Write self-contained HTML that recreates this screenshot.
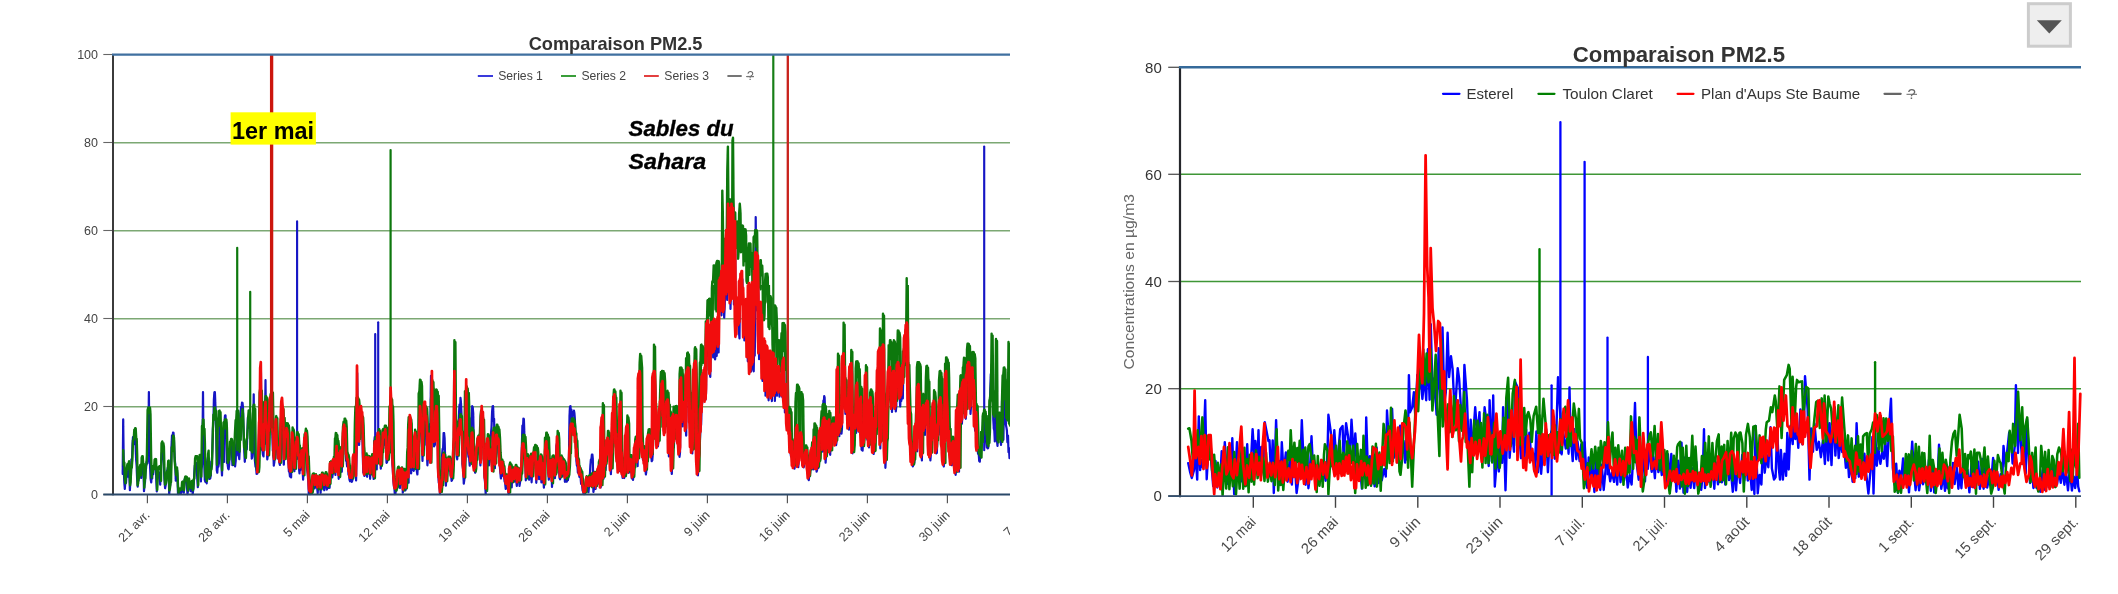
<!DOCTYPE html>
<html><head><meta charset="utf-8"><title>Comparaison PM2.5</title>
<style>html,body{margin:0;padding:0;background:#fff;}body{width:2118px;height:594px;overflow:hidden;font-family:"Liberation Sans",sans-serif;}svg{display:block;}text{font-family:"Liberation Sans",sans-serif;}</style>
</head><body>
<svg width="2118" height="594" viewBox="0 0 2118 594">
<rect width="2118" height="594" fill="#fff"/>
<defs><clipPath id="cl"><rect x="0" y="0" width="1010" height="594"/></clipPath><clipPath id="crl"><rect x="595" y="270" width="385" height="225"/></clipPath><clipPath id="cgl"><rect x="258" y="285" width="752" height="210"/></clipPath><clipPath id="cpl"><rect x="112" y="53" width="898" height="442.6"/></clipPath><clipPath id="cpr"><rect x="1179" y="66" width="903" height="431"/></clipPath><filter id="bl" x="-2%" y="-2%" width="104%" height="104%"><feGaussianBlur stdDeviation="0.55"/></filter></defs>
<g clip-path="url(#cl)" filter="url(#bl)">
<line x1="113" x2="1010" y1="406.7" y2="406.7" stroke="#7ba873" stroke-width="1.5"/>
<line x1="113" x2="1010" y1="318.7" y2="318.7" stroke="#7ba873" stroke-width="1.5"/>
<line x1="113" x2="1010" y1="230.7" y2="230.7" stroke="#7ba873" stroke-width="1.5"/>
<line x1="113" x2="1010" y1="142.7" y2="142.7" stroke="#7ba873" stroke-width="1.5"/>
<line x1="103.3" x2="113" y1="494.5" y2="494.5" stroke="#666" stroke-width="1.1"/>
<text x="98" y="498.9" font-size="12.5" fill="#444" text-anchor="end">0</text>
<line x1="103.3" x2="113" y1="406.5" y2="406.5" stroke="#666" stroke-width="1.1"/>
<text x="98" y="410.9" font-size="12.5" fill="#444" text-anchor="end">20</text>
<line x1="103.3" x2="113" y1="318.5" y2="318.5" stroke="#666" stroke-width="1.1"/>
<text x="98" y="322.9" font-size="12.5" fill="#444" text-anchor="end">40</text>
<line x1="103.3" x2="113" y1="230.5" y2="230.5" stroke="#666" stroke-width="1.1"/>
<text x="98" y="234.9" font-size="12.5" fill="#444" text-anchor="end">60</text>
<line x1="103.3" x2="113" y1="142.5" y2="142.5" stroke="#666" stroke-width="1.1"/>
<text x="98" y="146.9" font-size="12.5" fill="#444" text-anchor="end">80</text>
<line x1="103.3" x2="113" y1="54.5" y2="54.5" stroke="#666" stroke-width="1.1"/>
<text x="98" y="58.9" font-size="12.5" fill="#444" text-anchor="end">100</text>
<line x1="147.4" x2="147.4" y1="494.5" y2="503.3" stroke="#555" stroke-width="1.2"/>
<text transform="translate(150.4,515.7) rotate(-45)" font-size="12.7" fill="#444" text-anchor="end">21 avr.</text>
<line x1="227.4" x2="227.4" y1="494.5" y2="503.3" stroke="#555" stroke-width="1.2"/>
<text transform="translate(230.4,515.7) rotate(-45)" font-size="12.7" fill="#444" text-anchor="end">28 avr.</text>
<line x1="307.4" x2="307.4" y1="494.5" y2="503.3" stroke="#555" stroke-width="1.2"/>
<text transform="translate(310.4,515.7) rotate(-45)" font-size="12.7" fill="#444" text-anchor="end">5 mai</text>
<line x1="387.4" x2="387.4" y1="494.5" y2="503.3" stroke="#555" stroke-width="1.2"/>
<text transform="translate(390.4,515.7) rotate(-45)" font-size="12.7" fill="#444" text-anchor="end">12 mai</text>
<line x1="467.4" x2="467.4" y1="494.5" y2="503.3" stroke="#555" stroke-width="1.2"/>
<text transform="translate(470.4,515.7) rotate(-45)" font-size="12.7" fill="#444" text-anchor="end">19 mai</text>
<line x1="547.4" x2="547.4" y1="494.5" y2="503.3" stroke="#555" stroke-width="1.2"/>
<text transform="translate(550.4,515.7) rotate(-45)" font-size="12.7" fill="#444" text-anchor="end">26 mai</text>
<line x1="627.4" x2="627.4" y1="494.5" y2="503.3" stroke="#555" stroke-width="1.2"/>
<text transform="translate(630.4,515.7) rotate(-45)" font-size="12.7" fill="#444" text-anchor="end">2 juin</text>
<line x1="707.4" x2="707.4" y1="494.5" y2="503.3" stroke="#555" stroke-width="1.2"/>
<text transform="translate(710.4,515.7) rotate(-45)" font-size="12.7" fill="#444" text-anchor="end">9 juin</text>
<line x1="787.4" x2="787.4" y1="494.5" y2="503.3" stroke="#555" stroke-width="1.2"/>
<text transform="translate(790.4,515.7) rotate(-45)" font-size="12.7" fill="#444" text-anchor="end">16 juin</text>
<line x1="867.4" x2="867.4" y1="494.5" y2="503.3" stroke="#555" stroke-width="1.2"/>
<text transform="translate(870.4,515.7) rotate(-45)" font-size="12.7" fill="#444" text-anchor="end">23 juin</text>
<line x1="947.4" x2="947.4" y1="494.5" y2="503.3" stroke="#555" stroke-width="1.2"/>
<text transform="translate(950.4,515.7) rotate(-45)" font-size="12.7" fill="#444" text-anchor="end">30 juin</text>
<line x1="1027.4" x2="1027.4" y1="494.5" y2="503.3" stroke="#555" stroke-width="1.2"/>
<text transform="translate(1029.7,516.4) rotate(-45)" font-size="12.7" fill="#444" text-anchor="end">7 juil.</text>
<g clip-path="url(#cpl)" fill="none" stroke-linejoin="round" stroke-linecap="round">
<polyline stroke="#1212c4" stroke-width="2.2" points="122.7,474.0 123.2,419.4 123.8,470.1 124.3,482.3 124.8,488.8 125.4,481.4 126.0,482.9 126.5,474.8 127.1,472.0 127.6,476.7 128.1,472.0 128.6,467.8 129.0,467.7 129.5,479.7 129.9,490.2 130.4,479.2 130.9,477.3 131.4,459.3 132.0,461.4 132.5,443.8 133.0,437.0 133.5,442.7 134.0,437.0 134.5,444.2 135.0,438.9 135.5,443.2 136.1,459.1 136.6,465.6 137.1,478.7 137.7,486.6 138.1,478.3 138.6,480.6 139.1,472.3 139.6,468.7 140.1,468.2 140.8,469.7 141.2,478.0 141.7,464.3 142.5,460.9 143.0,468.1 143.4,465.2 144.0,491.1 144.5,484.4 145.0,482.3 145.5,472.5 146.0,468.8 146.5,462.2 147.0,462.2 147.4,463.5 147.9,456.3 148.3,444.2 148.9,392.1 149.5,457.9 150.0,464.1 150.6,478.9 151.2,482.3 151.7,475.8 152.2,478.4 152.7,469.2 153.2,474.2 153.7,465.8 154.2,465.5 154.8,466.7 155.3,463.3 155.8,463.3 156.3,480.6 156.8,491.4 157.3,479.8 157.8,475.2 158.3,477.1 158.8,472.6 159.2,472.7 159.7,475.8 160.2,484.6 160.7,474.8 161.2,460.5 161.7,453.8 162.2,451.3 162.7,455.0 163.2,454.5 163.8,464.5 164.4,478.8 165.1,488.2 165.8,484.6 166.3,475.0 166.9,471.1 167.4,470.0 167.9,467.3 168.7,473.4 169.2,494.2 169.7,487.6 170.3,485.0 170.9,470.9 171.4,448.7 172.0,435.3 172.5,441.2 173.0,432.6 173.5,432.8 174.0,440.8 174.6,457.2 175.2,464.1 175.8,480.6 176.4,478.9 177.1,470.3 177.6,481.5 178.0,494.2 178.5,494.2 179.0,490.6 179.5,490.8 180.1,493.2 180.6,490.7 181.2,493.0 181.8,489.4 182.4,484.9 182.9,485.0 183.4,491.4 183.8,492.7 184.5,479.9 185.0,478.7 185.5,478.7 186.0,480.6 186.5,481.3 187.0,487.1 187.5,494.1 188.1,489.7 188.6,483.7 189.1,483.8 189.6,488.4 190.1,487.0 190.6,491.1 191.1,490.7 191.5,484.6 192.1,486.7 192.7,494.2 193.3,489.2 193.9,481.6 194.4,471.3 194.8,465.5 195.3,467.9 195.8,463.0 196.3,463.1 196.8,468.9 197.3,479.1 197.8,487.2 198.2,472.3 198.7,464.6 199.2,467.5 199.7,461.0 200.5,462.7 200.9,481.5 201.4,469.2 201.9,466.5 202.4,457.4 203.0,392.1 203.6,456.2 204.2,462.7 204.8,479.9 205.4,481.9 206.1,480.5 206.7,483.3 207.1,461.8 207.8,457.7 208.2,463.4 208.7,460.0 209.2,479.0 209.7,475.6 210.2,478.6 210.8,475.5 211.3,461.6 211.8,462.6 212.4,449.9 212.9,428.8 213.4,421.4 213.9,399.4 214.4,392.3 214.9,392.1 215.4,405.6 215.9,412.9 216.3,439.2 216.8,470.5 217.3,472.7 217.9,463.2 218.4,466.6 218.9,463.0 219.5,423.2 220.1,429.1 220.8,439.0 221.4,464.1 222.0,475.4 222.5,454.0 222.9,440.8 223.4,455.2 224.0,461.9 224.6,420.3 225.0,415.5 225.5,415.4 225.9,426.7 226.3,422.3 226.9,462.9 227.5,463.0 228.1,468.2 228.6,469.3 229.2,464.0 230.0,448.6 230.5,444.5 231.0,444.4 231.4,448.9 231.9,450.1 232.4,465.2 233.0,463.4 233.5,465.0 234.0,463.3 234.5,460.8 235.1,466.4 235.7,460.8 236.2,445.0 236.8,441.3 237.4,419.9 238.2,455.4 238.7,455.4 239.3,459.1 239.8,448.0 240.4,415.3 241.0,407.2 241.5,408.3 242.0,402.7 242.5,402.8 243.0,407.9 243.7,433.4 244.2,449.9 244.8,461.8 245.3,450.2 245.8,454.1 246.3,441.0 246.8,449.4 247.3,434.8 247.9,417.5 248.5,417.1 249.1,427.7 249.7,417.2 250.2,420.3 250.7,438.8 251.2,439.3 251.8,458.6 252.2,457.0 252.7,443.7 253.1,441.2 253.7,394.3 254.2,447.2 254.9,460.4 255.5,466.7 256.1,467.5 256.6,473.8 257.2,473.6 257.8,457.7 258.4,453.9 258.9,446.0 259.4,411.1 259.9,410.1 260.4,377.4 260.9,367.3 261.3,411.6 261.8,449.8 262.4,449.9 263.0,455.0 263.5,456.4 264.0,437.2 264.5,444.1 264.9,434.8 265.5,380.2 266.1,438.1 266.7,442.1 267.3,459.4 267.9,454.3 268.5,428.5 269.1,432.0 269.7,412.0 270.3,401.9 270.9,411.5 271.5,401.7 271.9,410.8 272.4,437.7 272.8,450.3 273.3,452.4 273.8,465.7 274.4,461.7 274.9,440.0 275.5,440.3 276.1,426.6 276.6,429.7 277.1,450.7 277.6,458.5 278.2,451.2 278.8,458.3 279.3,462.7 279.9,464.9 280.5,435.0 281.0,416.3 281.5,414.4 281.9,402.9 282.5,415.3 283.2,448.8 283.8,464.6 284.3,452.0 284.8,456.5 285.3,437.9 285.8,437.3 286.2,440.0 286.8,433.8 287.2,433.9 287.8,436.7 288.3,459.8 288.9,471.4 289.4,471.5 290.0,476.5 290.5,471.9 291.1,477.4 291.8,439.0 292.3,450.1 292.9,445.4 293.4,448.5 293.9,468.7 294.4,471.1 294.9,454.8 295.5,455.6 296.1,440.9 296.6,437.1 297.1,437.0 297.6,441.0 298.1,439.5 298.6,444.1 299.0,468.2 299.5,473.5 300.0,466.5 300.5,469.9 301.0,456.7 301.5,463.0 302.0,453.7 302.5,464.9 303.1,479.6 303.7,466.7 304.4,443.3 304.9,438.3 305.4,438.2 306.0,453.4 306.6,453.3 307.2,470.2 307.8,475.5 308.3,482.1 308.8,494.2 309.4,494.2 310.0,494.2 310.6,494.2 311.2,492.6 311.8,490.1 312.3,481.0 313.0,478.9 313.5,478.9 314.0,479.8 314.5,488.4 315.1,487.4 315.6,480.3 316.1,480.1 316.6,485.7 317.1,486.8 317.7,493.3 318.2,484.4 318.7,485.4 319.2,482.5 319.7,482.5 320.1,483.2 320.6,493.0 321.2,480.2 321.6,481.6 322.1,479.2 322.6,479.2 323.1,482.0 323.7,486.7 324.3,490.2 324.8,484.1 325.2,479.8 325.8,484.6 326.4,485.4 326.9,489.6 327.4,487.3 327.9,482.9 328.4,483.9 329.0,488.0 329.6,487.8 330.0,476.5 330.5,469.2 331.1,475.4 331.7,471.6 332.3,477.5 332.7,473.8 333.2,466.6 333.7,463.1 334.2,463.0 334.9,465.8 335.4,474.9 335.9,451.5 336.4,451.9 336.8,450.0 337.3,450.1 337.8,455.2 338.7,478.8 339.4,458.5 339.9,459.6 340.4,455.3 341.3,458.8 341.8,471.8 342.4,450.4 343.0,436.3 343.5,435.3 344.0,429.4 344.5,429.5 345.0,435.4 345.6,452.0 346.1,460.9 346.6,460.9 347.1,466.5 347.6,463.4 348.1,466.2 348.5,474.8 349.0,473.7 349.5,479.9 350.1,481.3 350.6,479.9 351.2,479.9 351.8,481.8 352.3,480.5 353.0,464.0 353.5,460.0 354.0,459.9 354.5,466.0 355.0,462.9 355.6,468.1 356.1,480.5 356.7,451.5 357.2,373.1 357.8,425.6 358.4,439.9 359.1,445.0 359.6,428.4 360.1,417.3 360.6,423.2 361.1,412.6 361.6,412.7 362.1,417.0 362.7,453.1 363.3,472.6 363.9,472.7 364.5,476.0 365.1,474.2 365.7,462.7 366.3,460.0 367.1,476.8 367.6,463.4 368.1,466.4 368.5,461.5 369.0,461.5 369.5,462.6 370.1,478.8 370.8,464.6 371.3,465.5 371.8,463.3 372.3,463.3 372.8,464.1 373.2,475.0 373.7,479.0 374.2,442.3 374.7,437.1 375.2,437.0 375.7,447.2 376.1,444.9 376.7,469.5 377.2,435.6 377.7,432.7 378.2,432.6 378.7,438.4 379.2,434.7 379.7,441.6 380.3,459.7 380.8,468.6 381.3,458.9 381.8,461.4 382.3,443.1 382.8,439.8 383.3,445.2 383.8,437.2 384.4,435.9 385.1,435.8 385.6,448.3 386.1,446.1 386.5,462.8 387.0,462.4 387.7,458.0 388.3,457.9 388.8,455.7 389.3,442.1 389.8,439.6 390.3,429.5 390.8,395.4 391.3,411.2 391.8,444.3 392.3,463.4 392.8,469.6 393.4,481.4 393.9,486.5 394.4,488.0 394.8,494.1 395.4,493.6 396.0,489.5 396.6,488.9 397.4,476.8 397.9,478.6 398.4,475.9 398.9,475.9 399.4,477.7 400.0,487.9 400.7,473.6 401.2,473.5 401.7,471.8 402.4,476.6 402.8,492.7 403.3,482.6 403.8,476.6 404.3,482.7 404.9,482.7 405.4,490.4 405.9,488.8 406.4,480.5 406.9,477.5 407.4,480.8 408.0,479.9 408.6,482.7 409.0,427.7 409.7,422.3 410.1,436.3 410.6,429.9 411.1,473.5 411.6,466.3 412.1,463.6 412.7,469.9 413.2,465.3 413.8,470.8 414.3,459.9 414.9,438.7 415.4,440.2 415.9,458.9 416.4,458.5 416.9,471.9 417.4,474.5 418.0,460.5 418.6,456.3 419.2,440.2 419.8,411.0 420.4,413.5 421.1,430.9 421.7,434.2 422.5,461.0 423.1,434.5 423.8,419.2 424.2,420.4 424.8,407.7 425.2,409.7 425.8,423.0 426.3,444.6 426.8,446.1 427.4,465.3 427.9,458.5 428.5,446.2 429.1,441.1 429.5,440.5 430.0,423.8 430.4,423.5 431.0,375.8 431.6,427.3 432.1,440.6 432.6,428.9 433.1,440.3 433.6,435.3 434.1,446.4 434.9,444.7 435.5,414.5 435.9,419.7 436.4,411.7 436.9,411.8 437.4,414.9 438.1,472.5 438.8,482.8 439.4,484.8 440.0,494.2 440.5,487.0 441.1,471.9 441.6,469.8 442.1,454.6 442.6,448.9 443.1,449.0 443.6,433.0 444.1,433.1 444.6,438.1 445.3,464.5 445.9,485.7 446.6,470.9 447.2,464.2 447.8,464.9 448.4,462.6 448.9,462.6 449.5,470.6 450.0,467.1 450.5,475.5 451.0,473.6 451.6,480.9 452.0,480.4 452.5,470.1 453.0,466.8 453.4,458.7 453.9,442.5 454.4,376.7 455.0,425.9 455.6,428.9 456.3,444.1 456.7,456.2 457.2,459.3 457.7,447.8 458.2,445.4 458.7,434.8 459.1,412.0 459.5,404.7 460.0,413.3 460.5,397.8 461.0,403.1 461.5,414.1 462.0,442.3 462.4,464.0 463.1,469.7 463.8,483.6 464.5,478.3 465.2,465.0 465.8,443.7 466.3,386.1 466.9,437.9 467.4,438.3 468.0,452.0 468.5,457.0 469.1,457.1 469.7,465.7 470.2,457.1 470.8,462.5 471.3,418.2 471.8,421.8 472.2,406.2 472.7,407.1 473.2,413.1 473.8,441.7 474.5,450.3 475.1,472.7 475.6,469.7 476.2,451.9 476.7,451.4 477.3,454.1 477.9,442.1 478.4,440.8 479.2,441.0 479.8,456.3 480.4,465.5 480.9,416.6 481.3,412.4 481.7,412.3 482.2,422.6 482.7,426.2 483.3,439.3 483.9,463.8 484.5,476.4 485.1,483.1 485.7,494.2 486.4,450.4 486.9,452.6 487.4,443.4 487.8,444.8 488.3,449.3 488.9,465.4 489.6,460.8 490.2,453.0 490.9,434.8 491.5,427.7 492.1,411.6 492.6,406.3 493.1,406.2 493.6,420.7 494.1,418.8 494.9,468.2 495.3,448.7 495.8,440.6 496.3,446.0 496.8,438.3 497.3,438.4 497.8,439.3 498.3,452.4 498.9,457.0 499.5,461.0 500.1,470.1 500.9,478.5 501.4,475.0 501.9,464.8 502.4,465.0 503.0,475.8 503.5,471.6 504.1,476.8 504.6,481.6 505.1,482.3 505.7,488.8 506.2,487.5 506.8,482.3 507.4,482.1 508.0,489.9 508.7,494.2 509.2,476.2 509.6,472.7 510.1,472.6 510.6,475.5 511.1,473.4 511.7,487.4 512.1,478.1 512.6,474.0 513.2,478.3 513.7,476.6 514.2,481.7 514.7,479.5 515.2,470.6 515.7,470.4 516.2,480.7 516.8,486.0 517.2,477.0 518.0,474.6 518.4,474.9 518.9,477.5 519.5,485.8 520.0,482.6 520.5,474.6 521.0,476.1 521.5,467.6 521.9,444.0 522.4,425.5 522.9,430.8 523.4,418.5 523.9,419.2 524.4,435.4 524.9,452.1 525.3,461.0 525.8,480.3 526.4,468.2 526.8,467.7 527.3,464.5 527.8,464.6 528.3,467.3 528.7,476.7 529.2,479.7 529.7,464.3 530.5,461.8 531.2,466.8 531.6,482.3 532.2,470.3 532.8,461.9 533.4,465.1 534.1,456.3 534.7,460.6 535.3,456.2 535.8,465.0 536.3,482.8 536.8,471.9 537.2,470.8 537.6,467.8 538.1,467.8 538.6,468.7 539.1,479.1 539.6,473.9 540.1,465.3 540.6,460.8 541.4,482.5 541.9,482.0 542.4,469.6 543.0,468.6 543.4,479.6 543.9,487.7 544.4,476.0 544.9,472.1 545.4,455.9 545.9,447.7 546.4,447.5 546.9,453.9 547.4,449.5 547.9,457.7 548.3,473.3 548.8,479.6 549.3,471.4 549.8,467.6 550.3,469.2 550.8,466.7 551.6,470.6 552.0,487.0 552.5,473.2 552.9,463.4 553.6,472.1 554.2,471.1 554.9,478.2 555.4,473.3 555.9,463.2 556.4,445.7 557.2,442.0 557.7,442.1 558.2,446.2 558.9,468.3 559.5,478.0 560.1,479.3 560.9,461.5 561.4,462.4 561.9,475.7 562.4,476.4 562.9,466.5 563.7,465.0 564.5,467.4 564.9,481.8 565.6,478.3 566.2,478.2 566.8,481.7 567.3,478.2 567.9,480.3 568.3,477.7 568.8,468.9 569.5,415.7 570.0,406.4 570.5,406.2 571.0,418.0 571.4,409.5 572.0,430.6 572.4,415.5 572.9,411.9 573.4,414.3 573.9,410.6 574.4,412.9 574.9,419.6 575.4,434.5 575.9,441.0 576.4,460.9 576.9,465.7 577.4,465.8 577.9,472.7 578.3,470.3 578.9,471.5 579.4,476.8 580.0,476.1 580.5,476.3 581.1,484.0 581.6,484.0 582.1,484.9 582.6,490.6 583.1,491.0 583.6,494.2 584.2,494.2 584.8,494.2 585.4,490.0 585.9,488.8 586.5,483.9 587.0,484.4 587.5,490.7 588.0,489.3 588.5,492.2 589.3,482.5 589.8,476.6 590.4,465.1 590.9,459.6 591.4,459.1 591.9,454.6 592.4,454.7 592.8,458.9 593.4,492.0 593.9,488.8 594.4,481.5 594.9,479.2 595.6,488.8 596.2,483.5 596.8,476.9 597.3,477.0 597.9,484.0 598.6,473.9 599.1,474.7 599.6,470.9 600.3,474.4 600.8,487.4 601.4,425.5 601.9,421.9 602.4,421.9 603.2,431.0 603.6,478.7 604.2,469.5 604.8,451.6 605.6,470.1 606.1,459.2 606.5,461.1 607.0,444.9 607.5,444.4 608.1,446.8 608.7,444.8 609.3,444.8 609.9,447.1 610.4,463.2 610.9,474.1 611.5,457.6 612.1,456.5 612.7,438.6 613.3,422.6 613.8,417.1 614.3,400.3 615.1,433.9 615.6,437.3 616.1,446.9 616.6,447.1 617.1,453.8 617.6,461.5 618.1,456.3 618.6,469.5 619.1,471.2 619.8,454.4 620.3,409.0 620.8,457.1 621.5,463.6 622.2,474.9 622.6,477.9 623.1,475.0 623.6,476.2 624.2,478.0 624.8,475.9 625.4,475.9 625.8,459.2 626.2,438.5 626.7,431.9 627.2,431.7 627.7,444.3 628.1,443.1 628.7,472.8 629.3,464.4 630.0,464.2 630.6,471.3 631.2,467.8 631.8,478.4 632.4,476.1 633.0,479.9 633.5,475.3 634.0,464.3 634.5,463.2 635.0,449.1 635.5,451.6 635.9,445.9 636.4,445.9 636.9,448.9 637.6,466.2 638.3,428.5 638.8,390.7 639.5,376.3 640.0,391.2 640.5,385.2 641.1,440.4 641.8,440.6 642.4,454.9 643.0,459.9 643.6,455.0 644.1,456.9 644.7,464.2 645.3,467.5 645.9,474.5 646.4,470.4 646.9,455.3 647.5,443.6 648.2,441.1 648.7,446.4 649.2,438.9 649.7,440.1 650.2,444.8 650.7,453.1 651.2,454.3 651.7,461.1 652.3,460.1 652.9,452.2 653.4,388.1 654.2,378.1 654.7,379.5 655.2,387.7 656.0,433.6 656.6,441.4 657.2,437.7 657.9,446.4 658.4,441.8 659.0,427.3 659.6,423.0 660.2,412.3 660.8,405.3 661.5,405.1 661.9,401.3 662.4,388.4 662.9,390.8 663.5,416.6 664.1,413.9 664.7,431.9 665.3,427.3 665.9,417.7 666.5,405.9 666.9,404.3 667.4,404.3 667.8,412.7 668.3,414.7 668.9,456.5 669.3,435.4 669.8,425.4 670.3,446.5 670.8,444.4 671.3,467.5 671.8,474.0 672.3,453.0 672.7,438.4 673.2,418.3 673.9,447.5 674.5,430.6 675.0,425.5 675.5,430.5 676.0,422.6 676.5,422.7 677.0,425.2 677.7,440.4 678.3,446.3 678.9,446.5 679.5,456.8 680.0,452.9 680.5,408.4 681.0,386.0 681.5,405.4 682.1,406.1 682.7,426.4 683.3,414.2 683.8,422.2 684.3,409.5 684.8,409.7 685.3,416.5 685.7,428.8 686.2,435.6 686.8,383.0 687.3,375.6 687.8,375.5 688.3,380.8 688.8,378.3 689.3,389.7 689.9,424.0 690.3,438.9 690.8,431.7 691.3,444.0 691.8,445.7 692.3,453.4 692.9,436.3 693.5,412.0 694.2,378.9 694.7,370.2 695.2,369.4 695.6,384.4 696.0,381.3 696.6,437.6 697.2,451.9 697.9,475.3 698.4,468.2 698.9,455.6 699.4,454.1 700.0,438.8 700.5,427.9 701.1,424.8 701.6,407.1 702.2,403.2 702.7,398.1 703.1,378.2 703.6,373.9 704.1,384.2 704.6,373.8 705.1,374.2 705.5,399.7 706.0,393.5 706.5,353.8 707.1,337.7 707.6,353.3 708.1,328.3 708.6,328.5 709.1,338.3 709.7,373.5 710.3,376.8 710.8,338.6 711.3,329.5 711.7,329.3 712.2,344.5 712.7,335.2 713.2,357.4 714.0,327.4 714.6,327.9 715.1,359.5 715.7,352.6 716.2,325.5 716.7,356.0 717.3,325.5 717.8,324.9 718.6,352.5 719.1,298.2 719.8,285.1 720.3,298.2 720.8,289.4 721.5,315.3 722.0,275.7 722.5,274.9 723.1,302.9 723.7,296.4 724.2,317.7 724.8,304.3 725.3,270.7 725.8,272.7 726.4,241.4 727.2,300.0 727.7,232.0 728.2,212.0 728.7,265.2 729.1,292.1 729.6,247.5 730.0,216.5 730.5,309.0 731.0,287.7 731.5,214.6 732.3,281.7 733.0,217.9 733.9,304.5 734.5,249.1 735.2,233.0 735.6,324.3 736.1,324.9 736.7,312.0 737.2,319.8 737.7,306.0 738.2,305.6 738.9,331.0 739.5,338.5 740.0,287.2 740.6,286.3 741.3,302.6 742.0,279.0 742.4,279.4 742.9,296.6 743.4,324.6 743.9,314.8 744.4,340.5 745.1,313.3 745.6,320.9 746.1,306.0 746.6,307.1 747.1,316.7 747.8,361.3 748.2,342.7 748.7,293.2 749.2,294.7 749.8,350.3 750.3,347.3 750.9,371.7 751.3,350.3 751.9,292.6 752.4,349.0 753.2,369.8 753.7,371.3 754.2,343.0 754.7,355.7 755.2,328.6 755.7,217.0 756.2,272.2 756.8,272.6 757.3,310.6 757.8,272.6 758.3,292.7 759.1,359.2 759.7,313.7 760.1,317.6 760.6,308.5 761.1,308.9 761.6,328.3 762.0,373.5 762.5,380.9 763.2,349.7 763.7,344.3 764.2,344.2 765.0,349.9 765.5,395.7 766.0,383.3 766.5,352.4 767.0,354.3 767.6,390.4 768.1,373.2 768.6,400.3 769.2,368.0 769.7,375.2 770.1,359.4 770.6,359.6 771.1,369.0 771.9,401.1 772.3,364.4 773.0,360.6 773.5,377.6 774.0,369.7 774.5,381.4 774.9,401.0 775.7,366.0 776.3,395.1 777.0,395.6 777.5,378.6 778.0,373.4 778.4,373.3 779.1,377.5 779.5,396.7 780.0,392.7 780.5,382.6 781.1,382.9 781.8,395.1 782.4,397.3 782.9,376.6 783.4,386.3 783.9,366.1 784.4,375.0 784.9,412.5 785.5,407.5 786.2,388.6 786.7,403.9 787.1,428.0 787.8,429.8 788.4,420.6 789.0,420.4 789.5,437.8 790.0,438.0 790.5,452.9 791.0,456.3 791.5,447.2 792.3,458.7 792.8,458.9 793.4,466.4 794.0,464.0 794.5,468.6 795.0,464.6 795.5,439.7 796.0,436.1 796.5,441.9 797.0,431.7 797.8,440.8 798.3,467.1 799.0,458.7 799.7,447.1 800.3,450.0 800.9,439.4 801.4,445.1 801.9,455.3 802.5,465.1 803.1,459.9 803.7,467.4 804.3,464.1 805.0,458.4 805.5,455.6 806.0,455.5 806.5,460.0 807.1,461.3 807.7,463.3 808.2,478.3 808.8,480.2 809.4,473.1 810.0,473.6 810.6,460.9 811.1,457.9 811.9,454.0 812.5,466.4 813.1,469.4 813.6,448.1 814.4,442.6 815.1,446.8 815.5,463.4 816.0,463.5 816.6,471.6 817.1,469.9 817.7,462.8 818.4,467.9 819.0,462.7 819.5,448.2 820.1,436.2 820.6,440.7 821.1,433.6 821.6,433.7 822.1,436.8 822.9,451.6 823.4,400.7 823.8,402.9 824.2,396.1 824.6,397.4 825.1,412.1 825.6,462.7 826.1,453.8 826.6,436.6 827.1,425.9 827.6,441.8 828.1,449.8 828.6,433.7 829.1,426.5 829.6,445.7 830.2,454.8 830.8,441.5 831.5,445.0 832.1,433.4 832.7,430.0 833.3,439.5 834.0,429.9 834.5,430.2 835.0,444.6 835.6,434.8 836.1,445.1 836.6,441.4 837.2,425.8 837.7,373.4 838.3,419.2 838.8,419.5 839.3,436.2 839.8,418.9 840.3,426.5 840.9,419.1 841.5,433.7 842.0,427.8 842.6,372.5 843.1,358.8 843.6,358.5 844.1,369.7 844.6,365.7 845.4,413.9 846.0,406.8 846.6,405.3 847.1,408.0 847.6,404.5 848.0,404.6 848.5,409.0 849.0,429.7 849.4,416.4 849.8,385.8 850.4,374.4 850.9,371.1 851.3,371.0 852.1,391.8 852.5,453.3 853.1,446.9 853.7,426.5 854.2,421.6 854.7,421.5 855.2,431.2 855.6,424.2 856.2,432.8 856.7,406.7 857.1,390.6 857.7,411.8 858.2,408.6 858.8,430.9 859.3,432.1 859.8,413.5 860.4,424.1 860.9,401.4 861.6,449.8 862.1,441.7 862.6,450.7 863.0,441.6 863.5,439.6 864.0,439.5 864.5,433.3 865.0,400.6 865.5,399.4 866.0,379.4 866.5,400.7 867.0,437.7 867.4,439.7 867.8,422.4 868.4,431.4 869.0,447.4 869.5,407.0 869.9,415.8 870.4,402.8 870.8,402.9 871.2,406.0 871.8,438.7 872.4,448.0 873.0,447.7 873.6,454.0 874.2,449.5 874.7,433.7 875.3,435.6 875.9,411.4 876.5,410.5 877.1,414.7 877.6,382.2 878.2,391.6 878.7,370.4 879.2,379.6 879.8,356.7 880.3,448.5 880.8,418.3 881.3,402.1 881.9,363.2 882.3,372.3 882.8,351.1 883.3,354.7 883.8,376.3 884.3,419.0 884.9,434.1 885.4,467.8 885.9,456.5 886.4,435.5 886.9,432.3 887.4,410.3 887.9,385.9 888.4,392.8 888.9,377.0 889.4,373.6 889.9,373.5 890.4,390.2 890.9,378.6 891.4,390.2 892.0,412.0 892.4,398.7 892.8,379.2 893.3,375.9 893.8,375.8 894.3,394.0 894.8,382.9 895.3,383.9 895.8,411.4 896.3,406.4 896.8,378.3 897.3,367.5 897.8,367.2 898.3,379.7 898.8,373.5 899.3,375.3 899.7,396.7 900.2,406.4 900.8,394.3 901.3,400.8 901.8,394.3 902.3,377.6 902.8,398.4 903.3,370.6 903.8,370.0 904.4,361.5 905.0,340.8 905.6,334.1 906.1,346.8 906.6,330.3 907.1,330.6 907.6,346.5 908.2,381.1 908.7,404.9 909.3,415.1 910.0,439.4 910.6,446.6 911.1,447.0 911.7,461.8 912.2,456.6 912.8,466.5 913.3,464.6 913.8,456.4 914.3,463.0 914.8,453.8 915.2,433.0 915.7,429.6 916.2,440.9 916.7,436.5 917.2,451.3 917.7,403.2 918.1,407.5 918.6,391.1 919.3,399.8 919.8,438.1 920.3,438.6 920.9,452.1 921.4,449.5 921.9,460.5 922.4,421.7 923.2,413.0 924.0,416.9 924.4,433.8 924.9,434.9 925.5,409.8 926.0,408.0 926.5,410.3 927.0,406.1 927.5,407.1 928.0,416.2 928.7,447.5 929.3,454.0 929.8,454.5 930.4,460.4 931.0,452.3 931.5,433.5 932.1,431.9 932.6,419.0 933.1,406.9 933.6,406.6 934.1,425.6 934.7,415.9 935.2,443.0 935.7,437.4 936.2,453.4 936.9,452.8 937.5,428.0 938.1,427.5 938.7,434.7 939.3,428.0 939.8,411.4 940.2,405.1 940.6,405.0 941.4,407.6 941.9,446.6 942.3,453.4 942.8,454.9 943.3,462.8 943.8,466.5 944.3,450.1 944.8,443.1 945.2,424.8 945.7,394.4 946.2,379.3 946.8,408.5 947.4,406.5 948.0,434.6 948.5,441.9 949.1,440.9 949.6,455.3 950.2,452.3 950.7,461.0 951.3,464.7 951.8,465.2 952.2,446.9 952.9,445.3 953.4,445.4 953.9,446.9 954.5,459.6 955.0,461.2 955.6,474.8 956.2,469.0 956.8,449.5 957.4,455.0 958.0,437.9 958.5,453.2 959.0,471.7 959.5,409.9 960.0,414.3 960.5,396.3 960.9,396.3 961.3,398.0 961.9,423.8 962.5,412.4 963.2,390.2 963.7,387.8 964.2,387.8 964.7,400.0 965.1,394.9 965.8,418.8 966.4,398.0 967.0,402.0 967.6,375.2 968.1,370.0 968.6,369.9 969.1,380.4 969.6,373.8 970.1,387.8 970.5,413.9 971.0,405.7 971.4,380.4 971.9,375.6 972.4,375.5 972.9,393.9 973.4,384.4 974.0,390.6 974.5,420.3 975.1,430.8 975.5,419.8 976.0,418.6 976.5,438.2 977.0,433.6 977.5,449.3 978.1,453.9 978.6,451.8 979.2,461.0 979.8,461.6 980.4,450.3 981.0,451.1 981.5,439.9 982.1,437.1 982.7,432.6 983.2,423.2 983.7,419.5 984.2,419.4 984.7,430.9 985.2,423.9 985.7,426.6 986.1,441.8 986.7,447.5 987.2,441.9 987.7,448.4 988.2,448.0 988.7,430.3 989.3,431.3 989.8,408.3 990.3,388.8 990.8,374.1 991.3,383.9 991.8,364.0 992.3,364.3 992.7,378.7 993.3,419.7 993.8,428.7 994.3,430.5 994.8,441.4 995.5,421.0 996.1,366.0 996.6,424.4 997.0,440.5 997.5,446.0 998.0,429.2 998.4,421.9 999.0,433.0 999.5,429.1 1000.0,439.0 1000.5,431.3 1001.0,444.9 1001.5,432.8 1002.0,401.8 1002.5,391.2 1002.9,418.3 1003.4,439.8 1003.9,409.7 1004.4,389.3 1004.9,412.9 1005.4,398.6 1005.9,424.9 1006.4,427.4 1006.9,430.5 1007.4,442.3 1008.0,435.5 1008.5,452.1 1009.0,448.1 1009.5,458.1"/>
<line x1="297.1" x2="297.1" y1="221.4" y2="459.0" stroke="#1212c4" stroke-width="2.1"/>
<line x1="375.2" x2="375.2" y1="334.0" y2="459.0" stroke="#1212c4" stroke-width="2.1"/>
<line x1="378.2" x2="378.2" y1="322.2" y2="459.0" stroke="#1212c4" stroke-width="2.1"/>
<line x1="984.2" x2="984.2" y1="146.6" y2="450.2" stroke="#1212c4" stroke-width="2.1"/>
<polyline stroke="#0d780d" stroke-width="2.4" points="123.2,450.2 123.7,465.4 124.3,462.4 124.8,478.6 125.4,483.4 125.8,477.6 126.3,474.3 126.8,468.3 127.4,464.1 127.9,468.7 128.4,464.0 129.1,461.2 129.6,468.4 130.1,485.2 130.6,482.2 131.2,466.2 131.8,467.7 132.4,457.7 133.0,440.4 133.7,440.0 134.3,429.6 134.7,436.1 135.2,428.2 135.7,428.4 136.2,438.4 136.7,438.9 137.2,456.4 137.6,485.3 138.1,483.4 138.7,472.5 139.2,478.4 139.7,467.0 140.3,464.9 140.7,473.0 141.1,475.3 141.7,457.6 142.2,456.2 142.7,456.2 143.2,464.0 143.7,463.7 144.3,487.6 144.8,479.5 145.3,478.3 145.8,466.6 146.4,463.8 146.9,455.3 147.6,410.0 148.3,407.6 148.9,407.5 149.4,413.0 150.0,407.7 150.5,414.4 151.1,454.7 151.7,477.7 152.3,469.5 152.9,472.4 153.4,465.9 154.0,469.2 154.6,459.8 155.1,459.1 155.5,463.2 156.0,459.1 156.6,473.2 157.2,490.0 158.0,467.4 158.7,469.0 159.4,466.2 159.9,466.3 160.4,467.0 161.0,480.9 161.5,443.5 162.3,441.4 162.8,451.5 163.4,443.3 163.9,446.7 164.4,467.7 165.0,484.7 165.5,481.3 166.0,483.4 166.6,480.5 167.1,471.5 167.6,473.2 168.2,461.0 168.7,460.6 169.4,490.4 169.9,488.5 170.5,482.8 171.0,482.1 171.8,447.2 172.4,451.3 173.0,435.7 173.5,435.7 174.0,437.8 174.7,460.8 175.2,467.0 175.6,468.9 176.1,475.1 176.6,475.2 177.0,467.5 177.5,473.7 178.0,486.2 178.5,493.0 179.0,489.3 179.4,488.6 180.0,490.4 180.5,488.6 181.1,490.0 181.6,488.4 182.1,482.1 182.6,481.6 183.3,487.2 184.0,490.2 184.7,479.4 185.3,476.6 185.8,476.5 186.3,480.6 186.8,477.0 187.3,479.1 187.7,486.9 188.1,490.6 188.6,481.8 189.0,478.5 189.5,482.3 190.1,481.9 190.7,488.0 191.2,487.4 191.7,481.0 192.2,480.8 192.8,490.3 193.3,488.6 193.8,479.2 194.3,478.5 194.7,469.7 195.1,458.4 195.6,456.2 196.1,458.3 196.5,456.1 197.1,456.2 197.6,460.0 198.2,485.4 198.8,459.7 199.2,460.7 199.7,454.9 200.2,454.9 200.7,455.8 201.3,476.8 202.0,426.0 202.5,427.9 203.0,419.4 203.5,419.6 204.0,434.6 204.5,428.9 204.9,443.3 205.4,473.9 205.9,478.5 206.4,476.0 206.9,481.1 207.5,475.2 208.1,453.9 208.6,450.6 209.1,470.5 209.5,477.5 210.0,470.4 210.5,475.5 211.0,469.6 211.5,469.2 212.0,464.0 212.5,444.0 213.0,426.8 213.4,414.6 213.9,420.0 214.4,407.7 214.9,407.5 215.6,418.2 216.2,411.0 217.0,464.8 217.5,436.8 218.0,418.5 218.5,426.0 219.1,410.8 219.6,410.6 220.0,420.4 220.5,412.2 221.0,431.5 221.6,443.5 222.1,470.4 222.6,454.4 223.1,433.9 223.5,422.5 224.0,421.9 224.5,428.6 225.0,419.5 225.5,419.4 226.0,426.5 226.4,419.6 226.9,427.9 227.3,446.1 227.7,460.4 228.0,462.7 228.7,459.7 229.4,459.7 230.0,441.7 230.6,444.9 231.1,439.0 231.7,439.0 232.2,440.5 232.9,461.3 233.6,464.6 234.2,456.3 234.9,434.4 235.6,420.3 236.1,422.4 236.7,410.8 237.2,410.6 237.7,421.8 238.2,410.7 238.6,413.7 239.1,442.5 239.5,451.7 240.1,436.5 240.7,440.0 241.3,417.7 241.9,422.6 242.5,409.2 243.0,413.7 243.5,428.3 244.1,447.4 244.7,442.6 245.3,457.0 245.9,457.9 246.5,439.5 247.1,438.2 247.7,428.0 248.2,416.6 248.7,410.4 249.2,422.9 249.7,410.5 250.2,415.0 250.8,426.4 251.4,431.6 251.9,451.5 252.5,452.5 253.2,407.0 253.7,404.8 254.3,404.8 254.7,417.5 255.2,408.9 255.8,461.7 256.3,462.5 256.8,470.0 257.4,466.4 257.9,470.0 258.4,464.3 258.8,447.1 259.6,392.6 260.2,388.7 260.8,388.6 261.2,407.0 261.7,402.5 262.2,444.7 262.8,444.7 263.4,448.1 264.2,402.0 264.9,411.2 265.6,396.2 266.1,396.2 266.6,397.7 267.2,420.9 268.0,453.4 268.5,442.4 269.0,418.3 269.5,417.4 270.0,401.0 270.6,394.2 271.3,403.5 271.9,390.8 272.5,426.5 273.0,429.2 273.5,455.5 274.0,457.4 274.6,440.0 275.2,439.0 275.8,417.9 276.3,416.1 276.9,440.7 277.4,444.8 277.9,445.0 278.4,455.9 278.9,451.7 279.5,453.3 280.1,460.8 280.8,419.3 281.4,418.6 282.0,406.2 282.5,407.2 283.1,423.7 283.6,415.9 284.1,430.1 284.6,457.1 285.0,452.4 285.5,429.7 286.1,423.4 286.8,423.2 287.3,428.7 287.8,423.4 288.3,429.0 288.8,450.9 289.2,466.0 289.7,466.1 290.2,469.9 290.8,467.5 291.3,469.8 291.9,452.7 292.6,427.4 293.1,430.7 293.6,438.9 294.2,457.2 294.9,466.9 295.6,446.7 296.2,438.1 296.7,443.7 297.2,432.3 297.7,432.2 298.3,443.1 298.8,443.4 299.4,462.4 300.0,464.8 300.4,453.8 300.8,450.9 301.5,455.2 302.2,448.3 302.9,452.0 303.4,473.2 304.0,446.1 304.6,434.3 305.3,434.7 305.9,428.7 306.5,434.7 307.1,453.9 307.7,454.2 308.2,468.8 308.7,479.9 309.2,479.2 309.7,488.2 310.2,492.3 310.6,492.3 311.2,488.7 311.7,490.5 312.2,485.7 312.7,474.3 313.5,473.4 313.9,473.4 314.4,475.7 314.9,482.6 315.5,480.3 316.0,474.3 316.6,477.5 317.2,484.4 317.8,487.3 318.4,481.5 319.0,483.3 319.6,475.3 320.1,479.8 320.6,487.4 321.0,484.5 321.4,476.1 322.1,472.7 322.7,472.6 323.3,476.8 323.8,474.9 324.5,482.9 325.0,474.6 325.8,472.2 326.4,472.4 326.9,475.2 327.6,484.9 328.0,484.4 328.4,477.3 329.0,477.6 329.5,481.7 330.1,462.0 330.6,463.3 331.1,461.3 331.9,461.9 332.4,471.4 332.9,463.5 333.4,469.8 333.9,456.8 334.5,456.5 335.0,438.5 335.4,437.9 335.8,433.0 336.3,433.2 336.9,442.1 337.4,438.9 338.0,444.9 338.5,468.2 339.1,475.0 339.7,463.4 340.4,460.5 341.0,447.3 341.4,452.5 341.8,464.5 342.4,447.9 343.0,426.9 343.6,421.6 344.1,431.4 344.6,418.7 345.2,418.8 345.7,424.6 346.3,451.3 346.9,459.6 347.5,452.6 348.1,455.8 348.6,463.6 349.1,463.6 349.7,476.0 350.2,475.4 350.8,474.5 351.5,474.5 352.1,476.5 352.7,473.8 353.3,462.6 353.9,460.6 354.4,451.3 354.9,423.0 355.4,406.7 355.9,409.0 356.5,397.7 357.0,397.4 357.5,409.2 358.0,397.5 358.5,401.6 358.9,422.5 359.4,436.9 360.0,417.6 360.5,415.1 361.0,415.0 361.5,430.8 362.1,415.2 362.6,423.8 363.1,443.8 363.6,450.2 364.1,466.4 364.6,471.3 365.1,471.9 365.6,460.7 366.1,462.6 366.6,453.5 367.0,461.0 367.5,471.6 368.1,459.4 368.5,462.9 369.0,456.2 369.6,456.3 370.2,459.1 370.9,472.5 371.4,458.2 371.8,460.3 372.2,454.1 372.7,454.2 373.2,456.9 373.9,476.2 374.5,440.9 375.0,445.6 375.6,437.3 376.1,437.4 376.7,441.3 377.4,461.4 377.9,436.6 378.4,438.7 378.9,429.1 379.3,429.2 379.7,435.0 380.3,457.0 380.7,464.0 381.1,462.2 381.6,446.3 382.1,450.2 382.6,430.0 383.1,429.1 383.8,435.8 384.4,429.3 384.9,425.7 385.4,435.8 385.9,425.6 386.6,435.8 387.2,458.0 387.8,457.7 388.3,451.5 388.8,450.7 389.5,406.4 390.0,415.1 390.6,397.4 391.1,397.5 391.6,410.6 392.0,404.5 392.5,420.5 392.9,458.1 393.3,470.8 393.8,475.5 394.4,479.8 395.1,488.7 395.6,488.5 396.2,483.0 396.7,485.5 397.2,482.6 397.8,468.1 398.2,466.9 398.7,466.8 399.3,471.9 399.8,469.4 400.5,482.3 401.1,468.6 401.7,467.5 402.2,467.5 402.9,469.8 403.3,488.5 403.8,472.0 404.6,469.0 405.3,471.9 405.8,486.3 406.3,479.3 406.8,469.8 407.2,452.1 407.7,447.4 408.2,424.6 408.7,417.3 409.3,422.8 409.8,417.2 410.2,417.3 410.7,421.8 411.2,465.4 411.7,464.8 412.2,458.5 412.6,458.2 413.2,462.7 413.8,460.5 414.4,467.0 415.1,429.7 415.7,444.4 416.3,436.2 416.8,454.6 417.4,454.1 418.0,467.1 418.7,393.5 419.4,391.1 420.0,379.8 420.5,379.9 421.0,384.2 421.6,424.5 422.1,442.8 422.7,453.5 423.1,428.2 423.6,413.2 424.0,413.7 424.5,406.3 425.0,406.2 425.5,413.3 426.1,406.4 426.6,416.2 427.2,441.5 427.8,457.4 428.3,434.6 428.8,431.2 429.2,431.1 430.0,433.9 430.4,460.5 431.0,398.7 431.4,401.7 431.9,379.8 432.4,380.0 433.0,399.4 433.5,388.8 434.1,399.8 434.6,437.6 435.2,397.0 435.7,400.0 436.2,389.5 436.7,389.6 437.2,403.9 437.7,393.8 438.2,427.0 438.6,466.5 439.2,476.8 439.7,479.9 440.2,489.6 440.8,489.8 441.4,482.4 442.0,483.3 442.6,477.2 443.2,453.9 443.7,452.8 444.2,452.8 444.8,460.9 445.4,457.2 446.2,479.2 446.8,467.8 447.5,458.2 448.0,461.8 448.5,456.6 449.1,461.8 449.6,456.6 450.2,457.0 450.8,469.7 451.4,466.6 452.1,476.3 452.6,469.0 453.2,448.1 453.8,439.6 454.4,340.2 454.9,409.5 455.5,428.6 456.1,419.5 456.6,435.2 457.2,451.7 457.7,453.6 458.3,431.4 459.0,423.4 459.6,430.4 460.2,414.5 460.9,414.3 461.3,429.4 461.8,429.5 462.3,442.4 462.8,458.2 463.2,469.5 463.7,465.0 464.2,475.5 465.0,391.1 465.6,401.4 466.2,386.4 466.7,386.5 467.3,400.3 467.8,391.0 468.4,411.1 469.1,446.4 469.7,451.6 470.3,449.6 470.9,462.0 471.5,458.4 472.2,427.6 472.7,430.7 473.2,455.0 473.7,464.1 474.2,464.1 474.7,469.5 475.2,466.8 475.8,455.8 476.4,457.8 477.0,444.3 477.5,438.6 477.9,443.8 478.4,435.8 478.9,435.2 479.4,441.1 479.9,433.2 480.6,415.0 481.1,410.7 481.7,410.6 482.4,425.2 483.0,417.6 483.8,458.2 484.4,462.1 484.9,476.3 485.5,479.5 486.1,488.9 486.7,446.5 487.3,448.4 487.9,434.3 488.4,434.4 488.9,435.9 489.5,455.9 490.1,457.2 490.7,447.2 491.3,448.3 491.9,465.9 492.5,469.6 493.0,432.1 493.8,427.7 494.2,427.7 494.7,429.5 495.2,461.3 495.8,427.4 496.3,428.6 496.8,424.7 497.3,424.7 497.9,434.1 498.4,427.4 499.0,436.2 499.6,450.7 500.1,457.1 500.6,460.2 501.4,470.8 501.8,464.2 502.3,459.7 502.9,468.3 503.4,464.1 504.0,471.9 504.5,471.7 505.2,474.5 505.9,482.3 506.4,483.3 506.9,474.7 507.4,474.5 507.9,482.4 508.5,484.6 509.1,490.5 509.5,465.1 510.2,462.6 510.8,467.8 511.4,464.8 512.1,480.2 512.6,470.3 513.3,467.4 514.1,468.6 514.5,477.5 515.2,468.0 515.8,464.9 516.3,464.9 517.0,468.2 517.5,480.1 517.9,468.9 518.6,467.9 519.0,472.8 519.5,470.4 520.1,478.3 520.6,468.2 521.1,471.6 521.6,461.9 522.3,441.0 522.9,434.9 523.4,434.8 523.9,447.3 524.5,435.0 525.0,444.3 525.6,461.5 526.3,476.4 526.7,455.5 527.5,454.3 528.1,454.4 528.7,458.1 529.5,472.4 530.1,472.5 530.7,457.5 531.2,453.6 531.7,465.3 532.2,474.2 532.8,461.3 533.4,454.2 534.1,447.2 534.7,448.3 535.2,444.9 535.7,444.9 536.2,447.7 536.8,445.9 537.2,449.7 537.7,459.3 538.3,464.8 538.8,465.2 539.4,472.9 539.9,458.6 540.4,459.8 540.9,454.5 541.3,454.6 541.7,456.0 542.3,477.8 542.8,472.1 543.3,460.6 543.8,469.9 544.2,482.4 545.0,437.7 545.7,443.3 546.3,432.6 546.8,432.7 547.4,441.2 547.9,435.4 548.5,452.1 549.2,474.3 549.8,472.1 550.4,460.4 551.0,458.9 551.5,472.9 552.0,481.2 552.4,456.5 553.1,455.4 553.7,455.5 554.3,457.5 555.0,472.4 555.6,470.7 556.1,457.6 556.6,457.3 557.1,451.3 557.7,430.9 558.2,436.9 558.8,459.7 559.3,469.7 559.8,465.4 560.3,475.3 560.8,457.0 561.6,455.5 562.4,459.1 562.9,470.4 563.3,460.2 564.1,459.3 564.9,461.5 565.4,475.3 565.9,477.2 566.4,471.7 567.0,471.7 567.7,474.8 568.3,472.6 568.9,464.1 569.4,450.1 569.9,451.3 570.4,426.6 570.9,424.7 571.4,431.7 571.8,418.6 572.3,418.4 572.9,427.4 573.6,418.5 574.2,424.5 574.8,435.0 575.3,431.4 575.8,448.3 576.3,438.7 576.9,454.4 577.4,457.2 577.9,457.3 578.5,468.7 579.0,465.9 579.5,465.9 580.1,469.6 580.7,469.3 581.2,469.5 581.7,476.9 582.1,477.1 582.6,480.2 583.1,486.9 583.6,489.7 584.1,489.7 584.6,490.5 585.1,489.7 585.5,490.1 586.1,484.0 586.7,476.1 587.2,477.5 587.7,482.9 588.2,478.5 588.7,484.4 589.2,475.8 589.9,474.9 590.7,477.3 591.1,485.3 591.6,474.1 592.4,473.0 592.8,475.6 593.3,473.5 593.8,483.7 594.2,475.8 594.7,471.9 595.3,482.2 596.0,483.9 596.4,473.6 597.1,470.4 597.9,472.1 598.4,479.8 598.9,462.0 599.7,459.4 600.2,459.4 600.7,461.0 601.4,483.1 601.8,473.9 602.3,461.5 602.9,403.2 603.4,455.3 603.9,474.6 604.5,456.7 605.2,441.1 605.5,461.8 606.1,455.7 606.8,440.2 607.4,447.0 608.0,430.9 608.5,431.0 609.0,436.3 609.5,443.4 610.0,436.3 610.4,437.7 611.0,460.0 611.6,466.4 612.1,446.6 612.5,444.6 613.0,424.1 613.5,396.3 614.0,389.6 614.4,389.5 614.8,401.5 615.3,395.6 615.8,418.6 616.3,421.4 616.8,446.0 617.3,446.0 617.8,447.8 618.3,458.8 618.9,454.2 619.4,465.1 620.0,445.0 620.5,390.7 621.1,446.7 621.6,455.3 622.1,456.1 622.6,467.4 623.2,470.8 623.7,467.5 624.3,471.7 624.8,474.0 625.4,469.9 626.0,469.9 626.5,426.1 626.9,431.0 627.4,415.5 628.1,421.6 628.6,469.2 629.3,456.4 629.9,455.2 630.5,455.2 631.0,459.6 631.6,455.3 632.1,458.4 632.7,471.8 633.2,474.8 633.7,464.9 634.2,465.4 634.8,452.7 635.3,439.3 635.8,436.6 636.3,436.6 636.8,444.4 637.4,439.8 638.1,456.3 638.6,432.8 639.1,414.1 639.6,364.3 640.2,353.9 641.1,365.8 641.6,429.3 642.1,445.2 642.7,446.2 643.2,446.3 643.8,451.7 644.3,446.3 644.8,447.0 645.4,461.8 645.9,467.6 646.3,457.5 646.8,459.4 647.3,449.0 648.0,433.9 648.7,429.4 649.3,429.3 649.8,434.9 650.3,429.4 650.7,432.5 651.2,444.4 651.6,452.1 652.2,435.2 652.8,436.8 653.5,423.1 654.0,344.6 654.5,400.7 655.1,401.6 655.6,417.8 656.1,421.5 656.6,421.9 657.1,439.7 657.6,427.1 658.1,437.7 658.6,438.6 659.1,419.2 659.6,425.1 660.0,397.3 660.5,380.4 661.0,371.9 661.5,380.7 662.0,371.0 662.5,371.0 663.0,388.6 663.6,371.2 664.1,379.4 664.6,405.5 665.1,424.0 665.7,402.3 666.4,401.8 666.8,391.6 667.5,390.7 668.1,403.9 668.8,402.7 669.5,446.8 670.0,410.3 670.5,415.0 671.0,444.0 671.6,444.8 672.1,466.4 672.6,448.4 673.1,422.4 673.6,406.8 674.1,436.8 674.6,428.0 675.0,409.1 675.5,406.1 675.9,417.6 676.4,406.0 676.9,406.1 677.4,414.6 677.9,408.7 678.3,415.9 678.8,438.0 679.2,419.7 679.6,374.7 680.1,367.6 680.5,381.0 681.0,367.5 681.5,367.6 682.0,385.3 682.4,373.5 682.9,383.7 683.3,411.3 683.9,412.8 684.5,394.0 685.0,391.8 685.6,393.8 686.1,358.2 686.7,376.9 687.2,353.3 687.8,352.5 688.0,353.8 688.5,379.5 689.0,363.7 689.5,393.4 690.1,390.7 690.6,410.8 691.1,430.2 691.7,426.8 692.2,440.7 692.8,447.3 693.3,412.3 693.8,413.2 694.3,369.0 694.8,348.6 695.2,347.2 695.8,378.7 696.3,390.3 696.9,428.4 697.4,445.9 697.9,449.9 698.4,469.1 698.9,435.6 699.4,389.1 699.9,362.5 700.4,363.1 701.0,345.0 701.5,344.6 702.1,360.9 702.7,346.1 703.4,358.1 704.0,355.8 704.6,355.7 705.2,368.3 705.8,321.5 706.4,347.8 707.0,320.8 707.5,300.4 708.0,300.0 708.5,309.1 709.1,298.9 709.6,298.8 710.2,315.9 710.8,306.9 711.5,335.8 711.9,288.2 712.3,281.5 713.0,282.1 713.7,265.4 714.3,265.5 714.8,269.2 715.5,309.4 715.9,301.9 716.3,263.3 717.0,261.0 717.7,261.0 718.2,288.1 718.7,261.1 719.1,265.2 719.6,295.1 720.0,291.8 720.6,274.6 721.3,274.2 721.8,273.8 722.3,190.6 722.8,212.4 723.3,256.6 724.0,278.6 724.6,239.0 725.1,239.7 725.6,274.2 726.2,273.0 726.8,230.2 727.3,169.8 727.9,146.6 728.4,202.7 728.9,230.2 729.5,204.1 729.9,199.5 730.4,199.4 731.1,201.4 731.6,221.4 732.1,238.1 732.5,140.4 733.0,137.8 733.5,197.7 734.0,221.4 734.6,212.8 735.2,212.6 735.9,248.0 736.5,239.0 737.0,221.8 737.6,221.4 738.1,258.7 738.6,252.2 739.1,213.9 739.8,203.8 740.5,213.1 741.0,252.2 741.5,227.6 742.0,241.7 742.5,225.4 743.0,226.2 743.5,265.4 743.9,236.8 744.6,229.3 745.1,261.0 745.6,229.5 746.1,235.8 746.5,280.9 747.0,283.0 747.5,251.2 747.9,282.8 748.4,250.6 748.9,243.5 749.5,274.9 750.0,243.4 750.5,243.6 751.0,266.8 751.5,253.0 752.0,253.8 752.5,291.8 753.0,283.5 753.6,237.3 754.1,236.2 754.6,242.0 755.2,230.3 755.7,230.2 756.2,246.8 756.7,230.2 757.1,232.3 757.6,264.8 758.0,283.0 758.6,264.7 759.2,264.4 759.7,287.3 760.3,260.2 760.8,260.1 761.5,275.3 762.2,265.6 762.6,274.4 763.0,318.2 763.5,314.2 764.0,291.5 764.6,300.4 765.1,280.8 765.6,273.9 766.2,290.6 766.7,273.8 767.3,273.8 767.8,277.1 768.5,327.0 769.1,299.9 769.7,304.6 770.2,296.2 770.7,296.4 771.2,324.3 771.6,305.5 772.1,306.2 772.5,344.6 772.9,354.1 773.4,313.4 773.8,305.6 774.3,331.4 774.8,305.4 775.3,305.7 775.9,319.3 776.5,362.2 777.2,343.4 777.7,349.2 778.3,340.2 779.0,340.3 779.7,345.3 780.1,362.8 780.5,371.0 781.0,345.1 781.5,333.2 782.0,349.3 782.5,323.2 783.0,323.0 783.5,329.7 784.0,323.2 784.5,329.9 785.0,367.9 785.5,363.5 786.2,363.8 786.8,375.1 787.3,409.3 787.9,417.4 788.5,408.9 789.0,407.0 789.5,407.0 790.0,418.7 790.5,410.3 791.0,448.1 791.6,438.3 792.2,438.7 792.9,451.0 793.4,458.9 794.0,454.3 794.5,463.0 795.0,436.9 795.5,401.8 796.0,393.0 796.6,396.9 797.1,384.6 797.7,384.7 798.3,386.3 799.0,437.0 799.8,398.6 800.4,399.7 801.0,392.1 801.5,392.2 802.1,398.4 802.8,445.7 803.3,455.7 803.9,459.6 804.4,452.5 804.9,460.8 805.4,449.2 805.8,445.5 806.3,445.4 806.9,457.9 807.5,455.2 808.0,455.9 808.5,471.8 809.0,474.0 809.5,466.6 810.1,467.5 810.6,456.2 811.1,460.1 811.7,449.5 812.2,442.4 812.6,442.2 813.1,464.1 813.6,429.4 814.1,435.8 814.5,423.4 815.0,423.4 815.6,428.5 816.1,425.9 816.7,442.1 817.4,461.3 817.9,464.6 818.5,456.6 819.1,458.9 819.6,456.5 820.1,440.8 820.6,436.8 821.0,421.0 821.6,411.2 822.1,421.0 822.6,405.2 823.1,404.0 823.7,410.5 824.2,404.0 824.7,404.1 825.2,410.4 825.8,454.4 826.4,444.3 827.0,416.3 827.6,414.3 828.0,431.0 828.5,441.7 829.3,410.9 830.0,421.9 830.6,448.4 831.1,448.2 831.6,425.3 832.1,424.8 832.7,430.2 833.2,417.5 833.8,428.4 834.4,417.4 835.0,417.8 835.6,433.9 836.2,438.3 836.8,423.1 837.4,415.5 838.0,353.7 838.5,408.9 839.2,429.3 839.7,426.8 840.1,409.7 840.7,395.4 841.3,404.0 841.9,386.6 842.5,398.7 843.1,386.2 843.6,322.6 844.1,377.8 844.6,378.3 845.1,398.8 845.6,378.3 846.1,398.3 846.8,402.4 847.4,390.1 848.0,389.9 848.5,414.8 849.1,418.9 849.6,402.4 850.2,412.8 850.8,400.2 851.3,349.9 851.8,423.0 852.5,432.3 853.1,450.1 853.7,442.8 854.3,415.3 854.9,410.5 855.3,402.0 855.7,368.4 856.2,361.5 856.6,375.2 857.1,361.3 857.6,361.4 858.2,372.0 858.7,367.2 859.3,392.1 860.0,425.1 860.6,420.5 861.3,387.0 862.0,441.8 862.5,438.2 863.0,444.1 863.6,436.2 864.3,431.4 864.9,417.3 865.5,413.5 866.0,365.3 866.5,412.4 867.0,423.4 867.5,429.8 867.9,414.5 868.4,409.5 869.0,429.6 869.6,442.6 870.1,392.7 871.0,389.4 871.4,389.6 871.9,396.5 872.4,432.8 872.9,446.8 873.5,438.6 874.0,449.1 874.5,448.8 875.1,428.0 875.7,432.1 876.2,408.3 876.8,398.0 877.4,400.2 877.9,383.6 878.4,403.4 879.0,379.6 879.5,379.2 880.0,328.4 880.6,409.0 881.1,438.8 881.8,426.7 882.5,405.0 883.0,313.8 883.5,389.7 884.1,395.0 884.7,417.8 885.2,443.9 885.8,458.0 886.3,440.0 886.8,436.3 887.4,401.3 887.9,397.1 888.7,345.2 889.3,356.6 890.0,340.2 890.5,340.2 890.9,357.7 891.4,342.5 891.8,351.2 892.2,399.6 892.9,348.9 893.4,361.1 893.9,340.2 894.6,341.5 895.2,351.9 896.0,398.8 896.7,344.1 897.2,352.2 897.8,330.5 898.5,330.6 899.1,335.1 899.9,380.8 900.5,388.0 901.1,377.6 901.7,377.5 902.2,381.2 902.8,351.4 903.3,375.0 903.8,348.9 904.4,348.3 905.0,362.9 905.6,329.8 906.2,329.4 906.7,278.2 907.2,358.0 907.8,383.7 908.3,362.9 908.9,387.5 909.5,409.6 910.1,412.0 910.7,437.6 911.3,450.4 911.8,448.2 912.4,462.4 913.0,462.3 913.5,454.9 914.1,457.5 914.7,443.5 915.2,443.1 916.0,414.9 916.5,404.7 916.9,367.5 917.5,362.3 918.0,375.9 918.5,362.2 919.1,362.2 919.7,364.7 920.4,424.9 920.9,439.6 921.4,436.0 922.0,451.0 922.5,397.4 923.3,393.8 923.9,408.9 924.5,399.5 925.2,422.5 925.9,377.5 926.4,366.0 927.0,365.7 927.6,388.1 928.3,379.6 929.0,437.6 929.7,437.9 930.3,448.4 930.9,450.7 931.5,430.6 932.0,436.1 932.5,407.3 933.1,404.2 933.6,411.0 934.1,390.2 934.7,395.3 935.4,430.2 936.0,445.2 936.6,431.8 937.1,438.3 937.7,416.1 938.2,415.5 938.6,413.9 939.0,380.3 939.7,371.2 940.4,371.0 941.0,388.8 941.5,377.0 942.2,434.7 942.8,439.2 943.3,452.6 943.9,446.9 944.4,461.1 945.1,363.7 945.6,376.7 946.1,357.4 946.6,357.4 947.1,369.2 947.7,360.6 948.1,375.3 948.6,418.9 949.1,434.3 949.6,426.9 950.1,449.7 950.6,450.8 951.3,450.9 952.0,457.7 952.5,454.2 953.0,436.7 953.6,437.4 954.1,453.0 954.6,448.5 955.1,464.1 955.6,460.1 956.1,469.8 956.7,446.6 957.2,406.8 957.8,394.7 958.5,425.9 959.0,449.8 959.5,465.7 960.0,392.8 960.5,375.6 960.9,375.3 961.7,377.4 962.2,411.0 962.9,367.4 963.4,366.7 964.0,357.8 964.7,358.0 965.3,365.5 966.1,407.1 966.6,396.7 967.0,349.4 967.5,343.8 967.9,355.5 968.4,343.7 968.9,344.0 969.4,360.2 969.9,356.0 970.3,362.1 970.8,396.7 971.2,391.8 971.6,362.3 972.1,352.2 972.6,368.2 973.0,352.0 973.7,352.1 974.3,356.5 975.2,418.8 975.6,419.2 976.1,404.3 976.6,404.0 977.2,426.9 977.7,446.1 978.2,446.3 978.8,452.8 979.3,449.0 979.9,454.7 980.5,455.5 981.1,432.0 981.7,440.1 982.3,428.6 982.7,416.1 983.2,413.1 983.6,417.8 984.1,409.7 984.6,409.6 985.1,419.9 985.7,413.9 986.4,434.7 986.9,434.8 987.4,444.2 987.9,435.4 988.4,440.9 988.9,430.1 989.4,400.8 989.9,398.5 990.5,394.0 991.1,381.0 991.6,333.6 992.1,388.3 992.7,388.7 993.2,414.6 993.7,408.5 994.3,392.4 994.9,411.1 995.5,389.7 996.0,338.9 996.5,413.0 997.1,421.6 997.6,440.4 998.1,416.1 998.8,412.7 999.3,423.3 999.8,412.8 1000.4,415.5 1000.9,438.7 1001.4,439.8 1002.0,399.9 1002.6,375.5 1003.2,375.9 1003.8,367.6 1004.4,367.5 1005.0,399.3 1005.6,379.8 1006.2,417.7 1006.9,418.5 1007.4,398.2 1008.0,397.8 1008.5,342.0 1009.0,423.5"/>
<g clip-path="url(#cgl)"><polyline transform="translate(1.0,2.0)" stroke="#0d780d" stroke-width="2.4" points="250.2,415.0 250.8,426.4 251.4,431.6 251.9,451.5 252.5,452.5 253.2,407.0 253.7,404.8 254.3,404.8 254.7,417.5 255.2,408.9 255.8,461.7 256.3,462.5 256.8,470.0 257.4,466.4 257.9,470.0 258.4,464.3 258.8,447.1 259.6,392.6 260.2,388.7 260.8,388.6 261.2,407.0 261.7,402.5 262.2,444.7 262.8,444.7 263.4,448.1 264.2,402.0 264.9,411.2 265.6,396.2 266.1,396.2 266.6,397.7 267.2,420.9 268.0,453.4 268.5,442.4 269.0,418.3 269.5,417.4 270.0,401.0 270.6,394.2 271.3,403.5 271.9,390.8 272.5,426.5 273.0,429.2 273.5,455.5 274.0,457.4 274.6,440.0 275.2,439.0 275.8,417.9 276.3,416.1 276.9,440.7 277.4,444.8 277.9,445.0 278.4,455.9 278.9,451.7 279.5,453.3 280.1,460.8 280.8,419.3 281.4,418.6 282.0,406.2 282.5,407.2 283.1,423.7 283.6,415.9 284.1,430.1 284.6,457.1 285.0,452.4 285.5,429.7 286.1,423.4 286.8,423.2 287.3,428.7 287.8,423.4 288.3,429.0 288.8,450.9 289.2,466.0 289.7,466.1 290.2,469.9 290.8,467.5 291.3,469.8 291.9,452.7 292.6,427.4 293.1,430.7 293.6,438.9 294.2,457.2 294.9,466.9 295.6,446.7 296.2,438.1 296.7,443.7 297.2,432.3 297.7,432.2 298.3,443.1 298.8,443.4 299.4,462.4 300.0,464.8 300.4,453.8 300.8,450.9 301.5,455.2 302.2,448.3 302.9,452.0 303.4,473.2 304.0,446.1 304.6,434.3 305.3,434.7 305.9,428.7 306.5,434.7 307.1,453.9 307.7,454.2 308.2,468.8 308.7,479.9 309.2,479.2 309.7,488.2 310.2,492.3 310.6,492.3 311.2,488.7 311.7,490.5 312.2,485.7 312.7,474.3 313.5,473.4 313.9,473.4 314.4,475.7 314.9,482.6 315.5,480.3 316.0,474.3 316.6,477.5 317.2,484.4 317.8,487.3 318.4,481.5 319.0,483.3 319.6,475.3 320.1,479.8 320.6,487.4 321.0,484.5 321.4,476.1 322.1,472.7 322.7,472.6 323.3,476.8 323.8,474.9 324.5,482.9 325.0,474.6 325.8,472.2 326.4,472.4 326.9,475.2 327.6,484.9 328.0,484.4 328.4,477.3 329.0,477.6 329.5,481.7 330.1,462.0 330.6,463.3 331.1,461.3 331.9,461.9 332.4,471.4 332.9,463.5 333.4,469.8 333.9,456.8 334.5,456.5 335.0,438.5 335.4,437.9 335.8,433.0 336.3,433.2 336.9,442.1 337.4,438.9 338.0,444.9 338.5,468.2 339.1,475.0 339.7,463.4 340.4,460.5 341.0,447.3 341.4,452.5 341.8,464.5 342.4,447.9 343.0,426.9 343.6,421.6 344.1,431.4 344.6,418.7 345.2,418.8 345.7,424.6 346.3,451.3 346.9,459.6 347.5,452.6 348.1,455.8 348.6,463.6 349.1,463.6 349.7,476.0 350.2,475.4 350.8,474.5 351.5,474.5 352.1,476.5 352.7,473.8 353.3,462.6 353.9,460.6 354.4,451.3 354.9,423.0 355.4,406.7 355.9,409.0 356.5,397.7 357.0,397.4 357.5,409.2 358.0,397.5 358.5,401.6 358.9,422.5 359.4,436.9 360.0,417.6 360.5,415.1 361.0,415.0 361.5,430.8 362.1,415.2 362.6,423.8 363.1,443.8 363.6,450.2 364.1,466.4 364.6,471.3 365.1,471.9 365.6,460.7 366.1,462.6 366.6,453.5 367.0,461.0 367.5,471.6 368.1,459.4 368.5,462.9 369.0,456.2 369.6,456.3 370.2,459.1 370.9,472.5 371.4,458.2 371.8,460.3 372.2,454.1 372.7,454.2 373.2,456.9 373.9,476.2 374.5,440.9 375.0,445.6 375.6,437.3 376.1,437.4 376.7,441.3 377.4,461.4 377.9,436.6 378.4,438.7 378.9,429.1 379.3,429.2 379.7,435.0 380.3,457.0 380.7,464.0 381.1,462.2 381.6,446.3 382.1,450.2 382.6,430.0 383.1,429.1 383.8,435.8 384.4,429.3 384.9,425.7 385.4,435.8 385.9,425.6 386.6,435.8 387.2,458.0 387.8,457.7 388.3,451.5 388.8,450.7 389.5,406.4 390.0,415.1 390.6,397.4 391.1,397.5 391.6,410.6 392.0,404.5 392.5,420.5 392.9,458.1 393.3,470.8 393.8,475.5 394.4,479.8 395.1,488.7 395.6,488.5 396.2,483.0 396.7,485.5 397.2,482.6 397.8,468.1 398.2,466.9 398.7,466.8 399.3,471.9 399.8,469.4 400.5,482.3 401.1,468.6 401.7,467.5 402.2,467.5 402.9,469.8 403.3,488.5 403.8,472.0 404.6,469.0 405.3,471.9 405.8,486.3 406.3,479.3 406.8,469.8 407.2,452.1 407.7,447.4 408.2,424.6 408.7,417.3 409.3,422.8 409.8,417.2 410.2,417.3 410.7,421.8 411.2,465.4 411.7,464.8 412.2,458.5 412.6,458.2 413.2,462.7 413.8,460.5 414.4,467.0 415.1,429.7 415.7,444.4 416.3,436.2 416.8,454.6 417.4,454.1 418.0,467.1 418.7,393.5 419.4,391.1 420.0,379.8 420.5,379.9 421.0,384.2 421.6,424.5 422.1,442.8 422.7,453.5 423.1,428.2 423.6,413.2 424.0,413.7 424.5,406.3 425.0,406.2 425.5,413.3 426.1,406.4 426.6,416.2 427.2,441.5 427.8,457.4 428.3,434.6 428.8,431.2 429.2,431.1 430.0,433.9 430.4,460.5 431.0,398.7 431.4,401.7 431.9,379.8 432.4,380.0 433.0,399.4 433.5,388.8 434.1,399.8 434.6,437.6 435.2,397.0 435.7,400.0 436.2,389.5 436.7,389.6 437.2,403.9 437.7,393.8 438.2,427.0 438.6,466.5 439.2,476.8 439.7,479.9 440.2,489.6 440.8,489.8 441.4,482.4 442.0,483.3 442.6,477.2 443.2,453.9 443.7,452.8 444.2,452.8 444.8,460.9 445.4,457.2 446.2,479.2 446.8,467.8 447.5,458.2 448.0,461.8 448.5,456.6 449.1,461.8 449.6,456.6 450.2,457.0 450.8,469.7 451.4,466.6 452.1,476.3 452.6,469.0 453.2,448.1 453.8,439.6 454.4,340.2 454.9,409.5 455.5,428.6 456.1,419.5 456.6,435.2 457.2,451.7 457.7,453.6 458.3,431.4 459.0,423.4 459.6,430.4 460.2,414.5 460.9,414.3 461.3,429.4 461.8,429.5 462.3,442.4 462.8,458.2 463.2,469.5 463.7,465.0 464.2,475.5 465.0,391.1 465.6,401.4 466.2,386.4 466.7,386.5 467.3,400.3 467.8,391.0 468.4,411.1 469.1,446.4 469.7,451.6 470.3,449.6 470.9,462.0 471.5,458.4 472.2,427.6 472.7,430.7 473.2,455.0 473.7,464.1 474.2,464.1 474.7,469.5 475.2,466.8 475.8,455.8 476.4,457.8 477.0,444.3 477.5,438.6 477.9,443.8 478.4,435.8 478.9,435.2 479.4,441.1 479.9,433.2 480.6,415.0 481.1,410.7 481.7,410.6 482.4,425.2 483.0,417.6 483.8,458.2 484.4,462.1 484.9,476.3 485.5,479.5 486.1,488.9 486.7,446.5 487.3,448.4 487.9,434.3 488.4,434.4 488.9,435.9 489.5,455.9 490.1,457.2 490.7,447.2 491.3,448.3 491.9,465.9 492.5,469.6 493.0,432.1 493.8,427.7 494.2,427.7 494.7,429.5 495.2,461.3 495.8,427.4 496.3,428.6 496.8,424.7 497.3,424.7 497.9,434.1 498.4,427.4 499.0,436.2 499.6,450.7 500.1,457.1 500.6,460.2 501.4,470.8 501.8,464.2 502.3,459.7 502.9,468.3 503.4,464.1 504.0,471.9 504.5,471.7 505.2,474.5 505.9,482.3 506.4,483.3 506.9,474.7 507.4,474.5 507.9,482.4 508.5,484.6 509.1,490.5 509.5,465.1 510.2,462.6 510.8,467.8 511.4,464.8 512.1,480.2 512.6,470.3 513.3,467.4 514.1,468.6 514.5,477.5 515.2,468.0 515.8,464.9 516.3,464.9 517.0,468.2 517.5,480.1 517.9,468.9 518.6,467.9 519.0,472.8 519.5,470.4 520.1,478.3 520.6,468.2 521.1,471.6 521.6,461.9 522.3,441.0 522.9,434.9 523.4,434.8 523.9,447.3 524.5,435.0 525.0,444.3 525.6,461.5 526.3,476.4 526.7,455.5 527.5,454.3 528.1,454.4 528.7,458.1 529.5,472.4 530.1,472.5 530.7,457.5 531.2,453.6 531.7,465.3 532.2,474.2 532.8,461.3 533.4,454.2 534.1,447.2 534.7,448.3 535.2,444.9 535.7,444.9 536.2,447.7 536.8,445.9 537.2,449.7 537.7,459.3 538.3,464.8 538.8,465.2 539.4,472.9 539.9,458.6 540.4,459.8 540.9,454.5 541.3,454.6 541.7,456.0 542.3,477.8 542.8,472.1 543.3,460.6 543.8,469.9 544.2,482.4 545.0,437.7 545.7,443.3 546.3,432.6 546.8,432.7 547.4,441.2 547.9,435.4 548.5,452.1 549.2,474.3 549.8,472.1 550.4,460.4 551.0,458.9 551.5,472.9 552.0,481.2 552.4,456.5 553.1,455.4 553.7,455.5 554.3,457.5 555.0,472.4 555.6,470.7 556.1,457.6 556.6,457.3 557.1,451.3 557.7,430.9 558.2,436.9 558.8,459.7 559.3,469.7 559.8,465.4 560.3,475.3 560.8,457.0 561.6,455.5 562.4,459.1 562.9,470.4 563.3,460.2 564.1,459.3 564.9,461.5 565.4,475.3 565.9,477.2 566.4,471.7 567.0,471.7 567.7,474.8 568.3,472.6 568.9,464.1 569.4,450.1 569.9,451.3 570.4,426.6 570.9,424.7 571.4,431.7 571.8,418.6 572.3,418.4 572.9,427.4 573.6,418.5 574.2,424.5 574.8,435.0 575.3,431.4 575.8,448.3 576.3,438.7 576.9,454.4 577.4,457.2 577.9,457.3 578.5,468.7 579.0,465.9 579.5,465.9 580.1,469.6 580.7,469.3 581.2,469.5 581.7,476.9 582.1,477.1 582.6,480.2 583.1,486.9 583.6,489.7 584.1,489.7 584.6,490.5 585.1,489.7 585.5,490.1 586.1,484.0 586.7,476.1 587.2,477.5 587.7,482.9 588.2,478.5 588.7,484.4 589.2,475.8 589.9,474.9 590.7,477.3 591.1,485.3 591.6,474.1 592.4,473.0 592.8,475.6 593.3,473.5 593.8,483.7 594.2,475.8 594.7,471.9 595.3,482.2 596.0,483.9 596.4,473.6 597.1,470.4 597.9,472.1 598.4,479.8 598.9,462.0 599.7,459.4 600.2,459.4 600.7,461.0 601.4,483.1 601.8,473.9 602.3,461.5 602.9,403.2 603.4,455.3 603.9,474.6 604.5,456.7 605.2,441.1 605.5,461.8 606.1,455.7 606.8,440.2 607.4,447.0 608.0,430.9 608.5,431.0 609.0,436.3 609.5,443.4 610.0,436.3 610.4,437.7 611.0,460.0 611.6,466.4 612.1,446.6 612.5,444.6 613.0,424.1 613.5,396.3 614.0,389.6 614.4,389.5 614.8,401.5 615.3,395.6 615.8,418.6 616.3,421.4 616.8,446.0 617.3,446.0 617.8,447.8 618.3,458.8 618.9,454.2 619.4,465.1 620.0,445.0 620.5,390.7 621.1,446.7 621.6,455.3 622.1,456.1 622.6,467.4 623.2,470.8 623.7,467.5 624.3,471.7 624.8,474.0 625.4,469.9 626.0,469.9 626.5,426.1 626.9,431.0 627.4,415.5 628.1,421.6 628.6,469.2 629.3,456.4 629.9,455.2 630.5,455.2 631.0,459.6 631.6,455.3 632.1,458.4 632.7,471.8 633.2,474.8 633.7,464.9 634.2,465.4 634.8,452.7 635.3,439.3 635.8,436.6 636.3,436.6 636.8,444.4 637.4,439.8 638.1,456.3 638.6,432.8 639.1,414.1 639.6,364.3 640.2,353.9 641.1,365.8 641.6,429.3 642.1,445.2 642.7,446.2 643.2,446.3 643.8,451.7 644.3,446.3 644.8,447.0 645.4,461.8 645.9,467.6 646.3,457.5 646.8,459.4 647.3,449.0 648.0,433.9 648.7,429.4 649.3,429.3 649.8,434.9 650.3,429.4 650.7,432.5 651.2,444.4 651.6,452.1 652.2,435.2 652.8,436.8 653.5,423.1 654.0,344.6 654.5,400.7 655.1,401.6 655.6,417.8 656.1,421.5 656.6,421.9 657.1,439.7 657.6,427.1 658.1,437.7 658.6,438.6 659.1,419.2 659.6,425.1 660.0,397.3 660.5,380.4 661.0,371.9 661.5,380.7 662.0,371.0 662.5,371.0 663.0,388.6 663.6,371.2 664.1,379.4 664.6,405.5 665.1,424.0 665.7,402.3 666.4,401.8 666.8,391.6 667.5,390.7 668.1,403.9 668.8,402.7 669.5,446.8 670.0,410.3 670.5,415.0 671.0,444.0 671.6,444.8 672.1,466.4 672.6,448.4 673.1,422.4 673.6,406.8 674.1,436.8 674.6,428.0 675.0,409.1 675.5,406.1 675.9,417.6 676.4,406.0 676.9,406.1 677.4,414.6 677.9,408.7 678.3,415.9 678.8,438.0 679.2,419.7 679.6,374.7 680.1,367.6 680.5,381.0 681.0,367.5 681.5,367.6 682.0,385.3 682.4,373.5 682.9,383.7 683.3,411.3 683.9,412.8 684.5,394.0 685.0,391.8 685.6,393.8 686.1,358.2 686.7,376.9 687.2,353.3 687.8,352.5 688.0,353.8 688.5,379.5 689.0,363.7 689.5,393.4 690.1,390.7 690.6,410.8 691.1,430.2 691.7,426.8 692.2,440.7 692.8,447.3 693.3,412.3 693.8,413.2 694.3,369.0 694.8,348.6 695.2,347.2 695.8,378.7 696.3,390.3 696.9,428.4 697.4,445.9 697.9,449.9 698.4,469.1 698.9,435.6 699.4,389.1 699.9,362.5 700.4,363.1 701.0,345.0 701.5,344.6 702.1,360.9 702.7,346.1 703.4,358.1 704.0,355.8 704.6,355.7 705.2,368.3 705.8,321.5 706.4,347.8 707.0,320.8 707.5,300.4 708.0,300.0 708.5,309.1 709.1,298.9 709.6,298.8 710.2,315.9 710.8,306.9 711.5,335.8 711.9,288.2 712.3,281.5 713.0,282.1 713.7,265.4 714.3,265.5 714.8,269.2 715.5,309.4 715.9,301.9 716.3,263.3 717.0,261.0 717.7,261.0 718.2,288.1 718.7,261.1 719.1,265.2 719.6,295.1 720.0,291.8 720.6,274.6 721.3,274.2 721.8,273.8 722.3,190.6 722.8,212.4 723.3,256.6 724.0,278.6 724.6,239.0 725.1,239.7 725.6,274.2 726.2,273.0 726.8,230.2 727.3,169.8 727.9,146.6 728.4,202.7 728.9,230.2 729.5,204.1 729.9,199.5 730.4,199.4 731.1,201.4 731.6,221.4 732.1,238.1 732.5,140.4 733.0,137.8 733.5,197.7 734.0,221.4 734.6,212.8 735.2,212.6 735.9,248.0 736.5,239.0 737.0,221.8 737.6,221.4 738.1,258.7 738.6,252.2 739.1,213.9 739.8,203.8 740.5,213.1 741.0,252.2 741.5,227.6 742.0,241.7 742.5,225.4 743.0,226.2 743.5,265.4 743.9,236.8 744.6,229.3 745.1,261.0 745.6,229.5 746.1,235.8 746.5,280.9 747.0,283.0 747.5,251.2 747.9,282.8 748.4,250.6 748.9,243.5 749.5,274.9 750.0,243.4 750.5,243.6 751.0,266.8 751.5,253.0 752.0,253.8 752.5,291.8 753.0,283.5 753.6,237.3 754.1,236.2 754.6,242.0 755.2,230.3 755.7,230.2 756.2,246.8 756.7,230.2 757.1,232.3 757.6,264.8 758.0,283.0 758.6,264.7 759.2,264.4 759.7,287.3 760.3,260.2 760.8,260.1 761.5,275.3 762.2,265.6 762.6,274.4 763.0,318.2 763.5,314.2 764.0,291.5 764.6,300.4 765.1,280.8 765.6,273.9 766.2,290.6 766.7,273.8 767.3,273.8 767.8,277.1 768.5,327.0 769.1,299.9 769.7,304.6 770.2,296.2 770.7,296.4 771.2,324.3 771.6,305.5 772.1,306.2 772.5,344.6 772.9,354.1 773.4,313.4 773.8,305.6 774.3,331.4 774.8,305.4 775.3,305.7 775.9,319.3 776.5,362.2 777.2,343.4 777.7,349.2 778.3,340.2 779.0,340.3 779.7,345.3 780.1,362.8 780.5,371.0 781.0,345.1 781.5,333.2 782.0,349.3 782.5,323.2 783.0,323.0 783.5,329.7 784.0,323.2 784.5,329.9 785.0,367.9 785.5,363.5 786.2,363.8 786.8,375.1 787.3,409.3 787.9,417.4 788.5,408.9 789.0,407.0 789.5,407.0 790.0,418.7 790.5,410.3 791.0,448.1 791.6,438.3 792.2,438.7 792.9,451.0 793.4,458.9 794.0,454.3 794.5,463.0 795.0,436.9 795.5,401.8 796.0,393.0 796.6,396.9 797.1,384.6 797.7,384.7 798.3,386.3 799.0,437.0 799.8,398.6 800.4,399.7 801.0,392.1 801.5,392.2 802.1,398.4 802.8,445.7 803.3,455.7 803.9,459.6 804.4,452.5 804.9,460.8 805.4,449.2 805.8,445.5 806.3,445.4 806.9,457.9 807.5,455.2 808.0,455.9 808.5,471.8 809.0,474.0 809.5,466.6 810.1,467.5 810.6,456.2 811.1,460.1 811.7,449.5 812.2,442.4 812.6,442.2 813.1,464.1 813.6,429.4 814.1,435.8 814.5,423.4 815.0,423.4 815.6,428.5 816.1,425.9 816.7,442.1 817.4,461.3 817.9,464.6 818.5,456.6 819.1,458.9 819.6,456.5 820.1,440.8 820.6,436.8 821.0,421.0 821.6,411.2 822.1,421.0 822.6,405.2 823.1,404.0 823.7,410.5 824.2,404.0 824.7,404.1 825.2,410.4 825.8,454.4 826.4,444.3 827.0,416.3 827.6,414.3 828.0,431.0 828.5,441.7 829.3,410.9 830.0,421.9 830.6,448.4 831.1,448.2 831.6,425.3 832.1,424.8 832.7,430.2 833.2,417.5 833.8,428.4 834.4,417.4 835.0,417.8 835.6,433.9 836.2,438.3 836.8,423.1 837.4,415.5 838.0,353.7 838.5,408.9 839.2,429.3 839.7,426.8 840.1,409.7 840.7,395.4 841.3,404.0 841.9,386.6 842.5,398.7 843.1,386.2 843.6,322.6 844.1,377.8 844.6,378.3 845.1,398.8 845.6,378.3 846.1,398.3 846.8,402.4 847.4,390.1 848.0,389.9 848.5,414.8 849.1,418.9 849.6,402.4 850.2,412.8 850.8,400.2 851.3,349.9 851.8,423.0 852.5,432.3 853.1,450.1 853.7,442.8 854.3,415.3 854.9,410.5 855.3,402.0 855.7,368.4 856.2,361.5 856.6,375.2 857.1,361.3 857.6,361.4 858.2,372.0 858.7,367.2 859.3,392.1 860.0,425.1 860.6,420.5 861.3,387.0 862.0,441.8 862.5,438.2 863.0,444.1 863.6,436.2 864.3,431.4 864.9,417.3 865.5,413.5 866.0,365.3 866.5,412.4 867.0,423.4 867.5,429.8 867.9,414.5 868.4,409.5 869.0,429.6 869.6,442.6 870.1,392.7 871.0,389.4 871.4,389.6 871.9,396.5 872.4,432.8 872.9,446.8 873.5,438.6 874.0,449.1 874.5,448.8 875.1,428.0 875.7,432.1 876.2,408.3 876.8,398.0 877.4,400.2 877.9,383.6 878.4,403.4 879.0,379.6 879.5,379.2 880.0,328.4 880.6,409.0 881.1,438.8 881.8,426.7 882.5,405.0 883.0,313.8 883.5,389.7 884.1,395.0 884.7,417.8 885.2,443.9 885.8,458.0 886.3,440.0 886.8,436.3 887.4,401.3 887.9,397.1 888.7,345.2 889.3,356.6 890.0,340.2 890.5,340.2 890.9,357.7 891.4,342.5 891.8,351.2 892.2,399.6 892.9,348.9 893.4,361.1 893.9,340.2 894.6,341.5 895.2,351.9 896.0,398.8 896.7,344.1 897.2,352.2 897.8,330.5 898.5,330.6 899.1,335.1 899.9,380.8 900.5,388.0 901.1,377.6 901.7,377.5 902.2,381.2 902.8,351.4 903.3,375.0 903.8,348.9 904.4,348.3 905.0,362.9 905.6,329.8 906.2,329.4 906.7,278.2 907.2,358.0 907.8,383.7 908.3,362.9 908.9,387.5 909.5,409.6 910.1,412.0 910.7,437.6 911.3,450.4 911.8,448.2 912.4,462.4 913.0,462.3 913.5,454.9 914.1,457.5 914.7,443.5 915.2,443.1 916.0,414.9 916.5,404.7 916.9,367.5 917.5,362.3 918.0,375.9 918.5,362.2 919.1,362.2 919.7,364.7 920.4,424.9 920.9,439.6 921.4,436.0 922.0,451.0 922.5,397.4 923.3,393.8 923.9,408.9 924.5,399.5 925.2,422.5 925.9,377.5 926.4,366.0 927.0,365.7 927.6,388.1 928.3,379.6 929.0,437.6 929.7,437.9 930.3,448.4 930.9,450.7 931.5,430.6 932.0,436.1 932.5,407.3 933.1,404.2 933.6,411.0 934.1,390.2 934.7,395.3 935.4,430.2 936.0,445.2 936.6,431.8 937.1,438.3 937.7,416.1 938.2,415.5 938.6,413.9 939.0,380.3 939.7,371.2 940.4,371.0 941.0,388.8 941.5,377.0 942.2,434.7 942.8,439.2 943.3,452.6 943.9,446.9 944.4,461.1 945.1,363.7 945.6,376.7 946.1,357.4 946.6,357.4 947.1,369.2 947.7,360.6 948.1,375.3 948.6,418.9 949.1,434.3 949.6,426.9 950.1,449.7 950.6,450.8 951.3,450.9 952.0,457.7 952.5,454.2 953.0,436.7 953.6,437.4 954.1,453.0 954.6,448.5 955.1,464.1 955.6,460.1 956.1,469.8 956.7,446.6 957.2,406.8 957.8,394.7 958.5,425.9 959.0,449.8 959.5,465.7 960.0,392.8 960.5,375.6 960.9,375.3 961.7,377.4 962.2,411.0 962.9,367.4 963.4,366.7 964.0,357.8 964.7,358.0 965.3,365.5 966.1,407.1 966.6,396.7 967.0,349.4 967.5,343.8 967.9,355.5 968.4,343.7 968.9,344.0 969.4,360.2 969.9,356.0 970.3,362.1 970.8,396.7 971.2,391.8 971.6,362.3 972.1,352.2 972.6,368.2 973.0,352.0 973.7,352.1 974.3,356.5 975.2,418.8 975.6,419.2 976.1,404.3 976.6,404.0 977.2,426.9 977.7,446.1 978.2,446.3 978.8,452.8 979.3,449.0 979.9,454.7 980.5,455.5 981.1,432.0 981.7,440.1 982.3,428.6 982.7,416.1 983.2,413.1 983.6,417.8 984.1,409.7 984.6,409.6 985.1,419.9 985.7,413.9 986.4,434.7 986.9,434.8 987.4,444.2 987.9,435.4 988.4,440.9 988.9,430.1 989.4,400.8 989.9,398.5 990.5,394.0 991.1,381.0 991.6,333.6 992.1,388.3 992.7,388.7 993.2,414.6 993.7,408.5 994.3,392.4 994.9,411.1 995.5,389.7 996.0,338.9 996.5,413.0 997.1,421.6 997.6,440.4 998.1,416.1 998.8,412.7 999.3,423.3 999.8,412.8 1000.4,415.5 1000.9,438.7 1001.4,439.8 1002.0,399.9 1002.6,375.5 1003.2,375.9 1003.8,367.6 1004.4,367.5 1005.0,399.3 1005.6,379.8 1006.2,417.7 1006.9,418.5 1007.4,398.2 1008.0,397.8 1008.5,342.0 1009.0,423.5"/></g>
<line x1="237.2" x2="237.2" y1="247.8" y2="450.2" stroke="#0d780d" stroke-width="2.2"/>
<line x1="250.2" x2="250.2" y1="291.8" y2="450.2" stroke="#0d780d" stroke-width="2.2"/>
<line x1="390.6" x2="390.6" y1="150.1" y2="441.4" stroke="#0d780d" stroke-width="2.2"/>
<line x1="773.3" x2="773.3" y1="54" y2="327.0" stroke="#167f16" stroke-width="2.2" stroke-linecap="butt"/>
<polyline stroke="#f20d0d" stroke-width="2.7" points="257.3,472.2 257.9,462.0 258.5,449.7 259.1,423.1 259.7,413.9 260.2,367.8 260.8,362.2 261.3,417.9 261.8,446.3 262.4,446.4 263.0,450.2 263.5,450.1 264.0,424.0 264.5,426.2 265.0,408.4 265.5,401.8 266.0,420.6 266.5,425.6 267.0,434.3 267.5,454.6 268.0,447.6 268.5,425.8 269.0,430.6 269.5,406.2 270.0,397.6 270.6,408.0 271.1,397.6 271.6,397.4 272.0,418.8 272.4,430.6 273.0,435.1 273.5,451.5 274.0,459.0 274.5,446.1 275.0,449.1 275.5,421.6 276.0,419.4 276.5,439.6 276.9,447.0 277.5,447.1 278.0,457.9 278.5,454.6 279.0,454.7 279.5,461.9 279.9,460.6 280.4,433.1 280.9,411.3 281.3,401.6 282.0,397.8 282.6,406.5 283.2,410.1 284.0,459.0 284.6,444.0 285.2,433.6 285.9,436.4 286.5,428.2 287.1,429.7 287.8,434.7 288.4,457.2 289.0,467.8 289.5,467.9 290.1,471.3 290.6,467.9 291.1,470.8 291.6,456.3 292.0,432.6 292.5,433.9 292.9,441.9 293.5,457.8 294.0,455.2 294.5,467.8 295.0,460.5 295.6,448.4 296.1,441.5 296.6,446.7 297.1,437.0 297.7,438.8 298.3,455.6 298.9,454.8 299.5,467.8 300.0,465.5 300.5,454.5 301.0,464.2 301.5,450.6 302.0,450.2 302.5,463.3 303.1,473.8 303.7,451.9 304.4,437.9 305.0,443.5 305.5,433.0 306.0,434.5 306.5,451.5 307.0,453.9 307.5,465.7 308.0,472.2 308.5,478.3 309.0,489.2 309.5,491.0 310.1,489.7 310.6,492.0 311.1,491.5 311.6,485.7 312.2,478.0 312.6,475.7 313.0,475.7 313.5,478.7 314.0,477.0 314.7,485.0 315.2,475.8 315.6,475.3 316.0,475.3 316.5,477.6 316.9,477.5 317.4,487.1 318.0,478.1 318.5,476.6 319.0,476.5 319.5,480.7 319.9,479.2 320.5,487.3 321.2,477.3 321.7,474.6 322.3,474.6 322.9,477.7 323.4,475.8 324.1,484.8 324.5,478.0 325.2,475.7 325.8,475.7 326.4,476.3 327.1,485.4 327.6,485.6 328.1,478.2 328.8,478.7 329.5,482.8 329.9,463.9 330.6,462.6 331.1,468.1 331.6,465.2 332.2,472.6 332.9,459.8 333.4,459.1 334.0,459.1 334.5,464.8 335.0,461.5 335.6,472.0 336.1,453.6 336.6,446.1 337.2,457.4 337.9,463.0 338.5,475.0 339.2,453.2 339.8,457.3 340.3,450.9 340.8,451.0 341.2,452.4 341.7,466.1 342.3,455.9 342.9,433.3 343.6,426.9 344.2,424.7 344.8,431.6 345.3,428.1 346.0,454.1 346.5,454.2 347.0,459.6 347.5,459.0 348.0,461.1 348.5,471.2 349.0,469.6 349.5,476.4 350.0,477.7 350.5,474.9 351.0,474.8 351.6,477.7 352.2,475.9 352.9,457.2 353.4,454.7 354.0,454.6 354.6,460.2 355.2,456.4 355.9,475.7 356.4,446.0 357.0,365.7 357.6,421.0 358.0,421.4 358.5,436.4 359.0,441.4 359.8,413.8 360.4,406.4 361.0,406.2 361.6,412.5 362.2,412.3 362.9,437.0 363.5,467.8 364.0,474.5 364.6,472.6 365.1,462.7 365.6,466.7 366.2,457.0 366.7,460.9 367.1,471.8 367.6,458.3 368.5,457.5 369.0,462.9 369.6,459.4 370.3,473.1 370.9,460.1 371.5,457.8 372.0,457.7 372.5,462.3 373.1,462.4 373.8,476.3 374.3,447.0 374.8,441.5 375.2,441.4 375.7,445.8 376.2,445.7 376.8,463.5 377.3,435.9 377.8,432.7 378.2,432.6 378.6,441.4 379.1,435.5 379.6,457.3 380.1,457.4 380.5,464.4 381.0,463.4 381.6,449.3 382.3,446.8 382.9,433.0 383.5,432.6 384.0,432.6 384.7,437.2 385.3,429.3 385.9,436.3 386.4,456.8 387.0,459.0 387.6,453.8 388.2,453.7 388.7,449.3 389.2,436.4 389.7,435.4 390.1,416.2 390.6,387.7 391.2,401.9 391.9,440.0 392.5,459.0 392.9,465.6 393.4,477.0 394.0,484.3 394.7,488.5 395.3,484.9 395.9,487.6 396.5,484.2 397.2,472.2 397.8,470.3 398.4,470.2 398.9,475.5 399.5,473.4 400.1,483.8 400.7,470.6 401.2,468.7 401.7,468.7 402.5,471.4 402.9,489.3 403.4,484.8 404.0,472.6 404.5,475.2 405.1,485.7 405.6,487.5 406.1,475.7 406.7,471.9 407.2,477.1 407.8,472.2 408.4,477.1 408.9,429.7 409.4,432.4 409.8,415.0 410.6,418.5 411.1,467.2 411.6,459.2 412.0,459.0 412.6,463.8 413.2,461.1 413.8,466.9 414.3,436.8 415.0,432.6 415.6,439.9 416.2,441.4 416.9,453.3 417.5,467.8 418.0,461.8 418.5,440.8 419.0,433.2 419.5,424.3 420.0,406.2 420.5,411.3 421.0,423.2 421.5,428.5 422.0,434.6 422.5,454.6 423.1,434.8 423.8,404.8 424.4,401.9 425.0,401.8 425.6,419.1 426.2,415.9 426.9,428.1 427.5,459.0 428.0,438.8 428.4,444.0 428.9,433.8 429.3,433.8 429.7,436.9 430.3,462.7 430.8,458.6 431.3,437.9 431.9,371.0 432.4,422.4 433.0,425.2 433.5,441.8 434.0,441.4 434.4,441.3 434.9,441.3 435.4,411.0 435.8,414.2 436.2,406.2 436.8,406.4 437.3,415.2 438.0,467.8 438.5,477.2 439.0,476.7 439.5,486.8 440.0,492.0 440.6,486.5 441.2,487.3 441.8,480.4 442.4,479.9 442.9,457.8 443.6,454.6 444.2,462.6 444.9,459.1 445.4,467.7 446.0,481.0 446.6,472.4 447.3,459.5 447.9,459.0 448.4,463.0 449.0,459.0 449.5,459.4 450.0,469.4 450.5,466.0 451.0,476.7 451.5,476.6 452.0,469.7 452.4,468.0 452.9,461.7 453.4,447.4 453.8,437.2 454.4,371.0 454.9,421.2 455.5,437.7 456.1,439.8 456.6,441.4 457.0,454.6 457.5,454.6 458.1,430.0 458.6,428.0 459.3,434.7 459.9,419.6 460.5,419.4 461.1,432.4 461.7,431.8 462.2,440.5 462.7,458.5 463.2,470.8 463.8,476.6 464.4,464.9 465.0,458.8 465.6,437.3 466.2,379.4 466.8,431.1 467.3,445.5 467.9,437.9 468.5,450.2 469.1,454.4 469.7,450.4 470.3,461.1 470.8,458.9 471.4,438.0 471.8,432.7 472.2,432.6 472.9,440.6 473.3,466.1 473.9,470.4 474.4,466.2 475.0,467.8 475.5,465.2 476.1,451.8 476.6,446.7 477.2,445.9 477.9,437.2 478.5,437.0 478.9,441.8 479.4,437.5 480.0,447.9 480.6,462.6 481.0,421.1 481.7,406.2 482.3,420.1 482.9,411.9 483.7,459.0 484.2,461.6 484.7,477.8 485.2,479.2 485.7,488.5 486.3,443.6 486.8,443.6 487.2,438.6 487.8,438.7 488.3,441.7 489.0,459.0 489.5,450.6 490.3,449.6 490.9,454.4 491.4,453.8 492.1,470.9 492.6,445.9 493.1,432.6 493.6,447.7 494.1,445.2 494.5,457.6 495.0,464.4 495.7,441.2 496.3,434.9 496.8,434.8 497.4,443.8 498.1,438.3 498.6,439.9 499.1,453.2 499.5,465.4 500.0,463.4 500.4,466.2 500.9,473.1 501.3,472.0 501.8,461.8 502.3,462.0 502.9,470.9 503.4,467.3 504.0,472.2 504.5,477.6 505.1,477.1 505.6,483.4 506.2,483.7 506.8,476.2 507.4,476.1 508.0,486.4 508.6,492.0 509.1,468.4 509.6,466.7 510.0,466.6 510.5,472.7 511.0,470.6 511.7,481.2 512.1,471.7 512.9,469.9 513.6,471.8 514.1,478.8 514.7,468.7 515.2,467.6 515.6,467.6 516.5,470.5 517.0,482.1 517.4,477.8 517.9,468.6 518.5,470.5 519.1,479.8 519.6,480.3 520.2,472.5 520.9,470.4 521.5,464.0 522.2,447.7 522.8,443.7 523.4,443.6 524.0,450.7 524.6,449.6 525.3,458.3 526.0,476.6 526.5,461.1 527.3,458.3 527.9,463.2 528.4,459.8 529.1,474.1 529.6,465.0 530.1,468.1 530.6,456.7 531.0,463.9 531.5,476.2 532.2,468.8 532.9,455.9 533.4,452.5 534.0,459.8 534.6,452.5 535.2,452.4 535.8,471.4 536.4,479.2 536.9,465.2 537.6,461.8 538.1,461.9 538.6,462.8 539.3,474.6 539.7,460.9 540.4,456.3 541.2,461.2 541.6,479.1 542.3,474.6 542.9,463.5 543.5,468.7 544.0,483.0 544.5,472.9 545.0,452.1 545.7,444.0 546.3,441.4 546.9,453.4 547.5,450.3 548.0,454.8 548.5,473.4 549.0,476.6 549.6,468.8 550.2,470.0 550.8,460.1 551.3,466.7 551.8,481.0 552.3,461.0 553.0,459.0 553.5,464.1 554.1,460.7 554.8,475.3 555.4,464.3 556.1,458.6 556.5,451.8 557.0,436.6 557.6,443.2 558.2,460.1 558.8,463.4 559.4,468.8 560.0,476.6 560.5,472.3 561.0,457.5 561.5,461.0 562.0,469.9 562.5,473.4 562.9,464.4 563.6,461.6 564.3,465.4 564.7,477.6 565.4,472.3 566.0,472.2 566.6,475.8 567.2,472.2 567.8,474.1 568.3,472.0 568.8,464.9 569.3,449.8 569.9,444.9 570.5,428.2 571.0,423.9 571.5,429.0 572.0,423.8 572.6,423.9 573.3,434.8 573.9,428.2 574.4,428.8 574.9,442.2 575.5,436.4 576.0,456.6 576.5,448.7 577.0,459.0 577.5,464.1 578.0,460.4 578.4,467.5 579.0,474.4 579.5,467.6 580.0,472.2 580.5,475.4 581.1,474.4 581.6,477.7 582.3,485.1 582.9,486.6 583.5,492.0 584.0,492.2 584.5,491.6 585.0,491.6 585.5,488.0 586.0,479.9 586.4,477.4 587.0,481.1 587.6,480.7 588.2,485.9 588.9,484.5 589.5,477.3 590.0,479.8 590.6,485.7 591.1,485.1 591.7,477.1 592.2,476.5 592.7,484.7 593.2,486.2 593.7,475.2 594.2,472.8 594.7,472.8 595.4,474.1 595.8,485.5 596.2,482.2 596.7,472.9 597.3,474.1 598.0,481.0 598.6,466.3 599.1,469.1 599.6,465.0 600.0,465.0 600.4,467.0 601.0,484.9 601.6,424.6 602.1,422.9 602.6,415.0 603.3,429.9 603.7,475.7 604.2,455.8 604.6,447.8 605.1,462.1 605.5,463.4 606.1,453.7 606.8,454.5 607.4,437.9 607.9,438.0 608.5,441.4 609.0,447.9 609.6,441.4 610.1,442.8 610.6,458.9 611.0,467.8 611.5,454.3 612.0,451.9 612.5,432.9 613.2,410.6 613.8,415.1 614.4,394.3 614.8,406.0 615.3,428.1 615.9,440.3 616.4,433.9 617.0,450.2 617.6,458.9 618.1,456.8 618.7,470.0 619.3,468.0 620.0,450.2 620.5,401.8 621.0,450.8 621.6,453.0 622.2,468.9 622.8,471.7 623.3,469.4 623.8,472.2 624.3,474.4 624.9,470.0 625.4,470.0 626.1,433.0 626.6,435.1 627.2,424.7 627.6,424.9 628.0,435.3 628.6,470.0 629.1,460.7 629.6,462.5 630.0,459.0 630.6,459.0 631.2,461.3 631.8,467.8 632.4,468.4 633.0,474.8 633.5,472.4 634.0,459.5 634.5,457.0 635.1,445.0 635.5,449.9 636.0,441.4 636.5,441.5 637.0,445.4 637.6,459.7 638.0,450.8 638.5,424.3 638.9,375.9 639.6,371.0 640.0,373.0 640.5,388.6 641.0,435.5 641.5,444.7 642.0,443.1 642.5,450.2 643.1,454.3 643.6,450.2 644.2,452.0 644.7,460.8 645.2,457.1 645.7,468.2 646.4,466.9 647.0,451.9 647.8,436.3 648.4,434.8 649.0,434.8 649.6,438.7 650.2,436.1 650.9,440.7 651.5,454.6 652.2,452.5 652.8,445.5 653.3,374.9 654.0,371.0 654.6,371.2 655.2,381.8 656.0,428.2 656.5,436.3 657.0,431.7 657.5,445.4 658.0,441.4 658.5,426.2 659.0,428.6 659.5,410.1 660.0,406.2 660.5,407.7 661.0,398.7 661.5,398.5 662.0,398.6 662.5,381.1 663.0,389.4 663.5,413.4 664.0,411.6 664.5,428.2 665.0,432.4 665.5,411.8 666.0,411.0 666.5,401.3 667.0,410.6 667.4,399.6 667.9,399.8 668.4,406.7 669.0,450.2 669.5,444.1 669.9,418.1 670.4,426.8 671.0,451.9 671.5,451.5 672.0,468.2 672.6,449.9 673.1,414.2 673.6,421.5 674.0,441.4 674.8,418.4 675.4,424.6 676.0,415.0 676.6,415.0 677.2,416.2 677.9,437.8 678.5,441.4 679.0,441.5 679.5,451.9 680.1,447.2 680.5,402.2 681.0,377.6 681.6,400.1 682.2,402.9 682.8,419.4 683.4,403.8 683.9,408.5 684.4,401.8 684.9,401.9 685.4,407.3 686.0,428.2 686.7,371.9 687.2,378.8 687.8,367.5 688.4,367.7 689.0,376.0 689.5,400.1 690.0,419.4 690.5,420.8 691.0,444.4 691.6,433.4 692.1,450.2 692.6,443.2 693.1,411.7 693.6,406.2 694.2,367.0 694.7,377.5 695.2,360.9 695.6,361.0 696.1,368.5 696.6,432.6 697.2,458.8 697.9,471.8 698.4,458.3 699.0,456.8 699.5,433.4 700.0,432.6 700.5,431.3 701.0,406.2 701.5,412.2 702.0,397.4 702.6,373.7 703.2,373.2 703.9,381.4 704.6,367.5 705.1,367.9 705.5,399.2 706.0,388.6 706.8,339.5 707.4,320.8 708.0,320.4 708.6,342.1 709.2,325.2 709.8,344.0 710.4,371.3 710.8,328.1 711.5,322.1 712.0,329.9 712.5,326.7 713.1,350.4 713.6,323.9 714.1,318.9 714.6,349.1 715.2,320.5 715.8,344.1 716.5,321.5 717.0,329.3 717.6,317.4 718.3,321.9 718.8,344.2 719.3,304.4 719.9,277.8 720.4,299.3 720.9,290.6 721.4,308.5 721.9,275.8 722.6,265.9 723.1,278.4 723.5,272.5 724.0,309.4 724.6,265.4 725.1,280.3 725.7,239.4 726.3,230.2 726.8,284.6 727.2,291.8 728.0,203.8 728.5,233.7 729.0,283.0 729.8,208.2 730.2,285.1 730.7,300.6 731.5,203.8 732.0,212.3 732.4,274.2 733.2,208.2 733.7,284.5 734.1,296.2 734.5,231.8 735.0,221.4 735.8,318.2 736.4,334.3 736.9,298.0 737.5,317.5 738.0,297.5 738.5,298.0 739.0,322.6 739.5,321.5 740.0,279.0 740.5,278.2 741.0,292.9 741.5,271.3 742.0,271.1 742.5,301.6 743.1,287.9 743.7,305.2 744.2,334.8 745.0,308.7 745.5,313.3 746.1,299.0 746.6,299.2 747.0,307.9 747.6,354.4 748.3,335.1 748.9,283.2 749.4,342.4 750.1,371.3 750.8,364.3 751.3,342.2 751.9,282.4 752.4,340.6 753.0,362.1 753.6,326.9 754.2,318.9 754.8,282.1 755.2,252.8 755.7,252.2 756.2,277.5 756.7,252.8 757.3,302.3 757.8,255.6 758.3,283.6 758.8,327.6 759.4,350.8 759.9,308.1 760.4,302.2 760.8,302.0 761.4,324.8 761.9,314.9 762.6,376.0 763.2,344.1 763.7,338.8 764.1,338.7 764.6,351.5 765.0,341.2 765.5,388.5 766.0,348.5 766.7,345.7 767.3,347.2 767.9,357.8 768.5,394.8 769.1,354.7 769.5,368.3 769.9,350.8 770.5,350.9 771.1,356.6 771.8,395.7 772.3,391.5 772.8,352.6 773.5,353.4 774.1,388.2 774.7,392.9 775.2,363.9 775.7,358.5 776.3,385.2 777.0,388.0 777.5,375.3 778.0,385.0 778.5,366.0 779.0,367.4 779.5,390.0 780.0,378.8 780.6,374.7 781.2,382.4 781.7,378.3 782.4,393.0 783.0,365.5 783.7,357.8 784.2,396.9 784.8,405.1 785.3,387.3 785.8,398.3 786.3,384.2 786.8,397.2 787.2,420.8 787.8,427.6 788.4,415.1 789.0,415.0 789.5,431.2 790.0,432.5 790.5,449.6 791.0,450.0 791.5,441.4 792.0,441.7 792.4,454.0 792.9,463.2 793.4,455.6 793.9,465.5 794.4,463.8 794.9,451.4 795.5,454.5 796.0,437.1 796.6,436.7 797.1,425.1 797.6,436.2 798.1,464.3 798.6,461.4 799.0,454.6 799.8,437.5 800.4,432.7 801.0,432.6 801.7,437.3 802.1,450.7 802.6,457.8 803.0,455.1 803.5,463.4 804.0,464.2 804.4,455.1 804.9,454.8 805.4,454.9 806.0,450.2 806.6,450.4 807.2,457.7 807.7,464.9 808.2,468.2 808.7,475.7 809.3,474.7 809.9,462.2 810.4,462.1 811.0,454.6 811.6,447.9 812.2,447.8 812.6,464.0 813.1,465.5 813.6,453.6 814.0,453.2 814.5,437.0 815.0,443.1 815.4,457.7 816.0,466.5 816.5,457.8 817.0,463.4 817.5,466.5 818.0,458.4 818.5,461.5 819.0,458.3 819.8,432.7 820.3,428.2 820.9,428.1 821.5,435.7 822.1,429.2 822.8,447.2 823.3,423.6 823.8,417.8 824.2,417.6 824.7,421.9 825.1,420.4 825.7,456.3 826.3,429.0 826.9,421.4 827.5,443.5 828.0,445.6 828.6,425.0 829.2,419.6 829.7,436.7 830.2,449.6 830.8,435.9 831.4,446.4 832.0,429.4 832.5,423.9 833.0,435.5 833.5,423.9 834.0,423.8 834.5,436.1 835.0,424.2 835.5,442.9 836.0,441.4 836.6,429.0 837.2,421.3 837.7,367.0 838.2,414.8 838.7,426.9 839.1,432.4 839.6,415.3 840.0,415.0 840.6,426.7 841.1,415.1 841.7,424.0 842.2,422.4 842.8,361.2 843.2,353.6 843.6,353.4 844.2,375.3 844.8,366.5 845.5,406.2 846.1,398.4 846.8,409.2 847.4,398.3 847.9,401.8 848.5,425.9 849.0,423.8 849.5,388.1 849.9,377.4 850.4,364.1 850.9,377.1 851.3,363.1 852.0,374.9 852.5,450.2 853.3,417.0 853.9,415.0 854.5,415.0 855.0,423.1 855.6,416.2 856.2,425.8 856.7,397.2 857.1,382.9 857.7,403.0 858.3,399.3 858.9,424.0 859.5,428.2 860.2,399.3 860.9,396.8 861.3,430.5 861.8,443.3 862.4,437.6 863.0,437.0 863.6,442.7 864.1,434.2 864.8,402.3 865.4,400.5 866.0,372.8 866.5,388.8 867.1,432.1 867.5,435.0 868.0,415.0 868.6,426.9 869.2,443.5 869.7,402.1 870.5,397.4 871.0,411.5 871.4,404.8 872.0,434.8 872.6,435.3 873.2,450.0 873.8,450.2 874.3,435.5 874.9,442.1 875.4,415.5 876.0,427.0 876.5,406.2 877.0,390.7 877.5,401.0 878.0,367.9 878.6,373.3 879.1,348.9 879.6,347.7 880.1,405.3 880.6,442.2 881.0,415.5 881.5,397.4 882.1,349.2 882.5,363.7 883.0,344.6 883.4,344.7 883.9,349.1 884.4,423.8 884.9,448.9 885.4,460.3 885.9,438.1 886.5,437.9 887.0,412.0 887.5,406.2 888.1,398.5 888.8,369.9 889.4,367.1 890.0,367.0 890.6,382.3 891.2,373.9 892.0,406.2 892.7,374.5 893.3,371.1 893.9,371.0 894.4,388.0 894.9,376.8 895.5,406.2 896.0,383.5 896.5,373.4 897.2,382.3 897.8,362.2 898.3,362.3 898.9,369.3 899.5,388.6 900.0,396.0 900.5,386.4 901.1,395.0 901.6,386.4 902.2,365.6 902.8,383.4 903.4,362.7 904.0,362.2 904.5,361.3 905.0,335.8 905.5,332.9 906.1,338.7 906.7,322.6 907.3,324.9 907.8,339.9 908.5,397.4 909.0,421.1 909.5,406.8 910.0,436.0 910.5,441.4 911.1,443.4 911.6,459.1 912.2,450.4 912.8,462.1 913.4,460.0 914.0,449.4 914.6,448.0 915.0,441.9 915.5,423.8 916.0,429.0 916.5,443.1 917.1,447.9 917.6,399.6 918.1,384.5 918.5,384.2 919.0,392.4 919.4,392.0 920.0,432.6 920.6,437.3 921.3,453.1 921.9,454.6 922.4,410.7 923.2,405.1 924.0,408.6 924.5,428.2 925.1,411.7 925.8,405.8 926.4,414.6 927.0,400.9 927.6,401.0 928.1,405.9 928.8,441.4 929.3,452.3 929.8,447.0 930.3,454.6 930.8,453.5 931.3,433.8 931.8,440.0 932.3,415.6 932.8,413.7 933.2,417.9 933.7,400.9 934.3,402.6 934.9,434.4 935.4,429.9 936.0,450.2 936.5,447.7 937.0,434.2 937.5,435.6 938.0,423.8 938.6,421.9 939.1,421.9 939.6,402.5 940.4,397.4 940.9,403.9 941.4,404.8 942.0,441.4 942.6,444.9 943.2,458.4 943.8,462.1 944.3,442.8 944.7,442.3 945.2,418.0 945.7,389.7 946.1,371.0 946.7,394.1 947.4,406.8 948.0,428.2 948.5,438.2 949.0,431.1 949.5,449.0 950.0,443.4 950.5,454.6 951.2,462.2 951.9,461.3 952.3,443.4 953.0,441.4 953.6,441.5 954.2,446.7 954.9,462.2 955.6,470.4 956.1,448.0 956.6,439.6 957.1,407.8 957.6,410.5 958.0,432.6 958.5,452.5 959.0,468.5 959.6,407.5 960.1,393.0 960.6,388.6 961.0,400.9 961.5,390.6 962.0,419.4 962.8,384.0 963.4,379.9 964.0,379.8 964.6,397.1 965.2,386.6 966.0,415.0 966.6,380.8 967.1,372.3 967.8,372.7 968.4,362.2 969.0,362.3 969.6,368.9 970.1,393.1 970.5,406.2 971.2,372.8 971.8,367.6 972.4,367.5 973.0,388.8 973.6,380.2 974.3,389.3 975.0,423.8 975.5,423.2 976.0,412.1 976.5,418.3 977.0,444.0 977.5,448.0"/>
<g clip-path="url(#crl)"><polyline transform="translate(-1.0,2.5)" stroke="#f20d0d" stroke-width="2.7" points="590.0,479.8 590.6,485.7 591.1,485.1 591.7,477.1 592.2,476.5 592.7,484.7 593.2,486.2 593.7,475.2 594.2,472.8 594.7,472.8 595.4,474.1 595.8,485.5 596.2,482.2 596.7,472.9 597.3,474.1 598.0,481.0 598.6,466.3 599.1,469.1 599.6,465.0 600.0,465.0 600.4,467.0 601.0,484.9 601.6,424.6 602.1,422.9 602.6,415.0 603.3,429.9 603.7,475.7 604.2,455.8 604.6,447.8 605.1,462.1 605.5,463.4 606.1,453.7 606.8,454.5 607.4,437.9 607.9,438.0 608.5,441.4 609.0,447.9 609.6,441.4 610.1,442.8 610.6,458.9 611.0,467.8 611.5,454.3 612.0,451.9 612.5,432.9 613.2,410.6 613.8,415.1 614.4,394.3 614.8,406.0 615.3,428.1 615.9,440.3 616.4,433.9 617.0,450.2 617.6,458.9 618.1,456.8 618.7,470.0 619.3,468.0 620.0,450.2 620.5,401.8 621.0,450.8 621.6,453.0 622.2,468.9 622.8,471.7 623.3,469.4 623.8,472.2 624.3,474.4 624.9,470.0 625.4,470.0 626.1,433.0 626.6,435.1 627.2,424.7 627.6,424.9 628.0,435.3 628.6,470.0 629.1,460.7 629.6,462.5 630.0,459.0 630.6,459.0 631.2,461.3 631.8,467.8 632.4,468.4 633.0,474.8 633.5,472.4 634.0,459.5 634.5,457.0 635.1,445.0 635.5,449.9 636.0,441.4 636.5,441.5 637.0,445.4 637.6,459.7 638.0,450.8 638.5,424.3 638.9,375.9 639.6,371.0 640.0,373.0 640.5,388.6 641.0,435.5 641.5,444.7 642.0,443.1 642.5,450.2 643.1,454.3 643.6,450.2 644.2,452.0 644.7,460.8 645.2,457.1 645.7,468.2 646.4,466.9 647.0,451.9 647.8,436.3 648.4,434.8 649.0,434.8 649.6,438.7 650.2,436.1 650.9,440.7 651.5,454.6 652.2,452.5 652.8,445.5 653.3,374.9 654.0,371.0 654.6,371.2 655.2,381.8 656.0,428.2 656.5,436.3 657.0,431.7 657.5,445.4 658.0,441.4 658.5,426.2 659.0,428.6 659.5,410.1 660.0,406.2 660.5,407.7 661.0,398.7 661.5,398.5 662.0,398.6 662.5,381.1 663.0,389.4 663.5,413.4 664.0,411.6 664.5,428.2 665.0,432.4 665.5,411.8 666.0,411.0 666.5,401.3 667.0,410.6 667.4,399.6 667.9,399.8 668.4,406.7 669.0,450.2 669.5,444.1 669.9,418.1 670.4,426.8 671.0,451.9 671.5,451.5 672.0,468.2 672.6,449.9 673.1,414.2 673.6,421.5 674.0,441.4 674.8,418.4 675.4,424.6 676.0,415.0 676.6,415.0 677.2,416.2 677.9,437.8 678.5,441.4 679.0,441.5 679.5,451.9 680.1,447.2 680.5,402.2 681.0,377.6 681.6,400.1 682.2,402.9 682.8,419.4 683.4,403.8 683.9,408.5 684.4,401.8 684.9,401.9 685.4,407.3 686.0,428.2 686.7,371.9 687.2,378.8 687.8,367.5 688.4,367.7 689.0,376.0 689.5,400.1 690.0,419.4 690.5,420.8 691.0,444.4 691.6,433.4 692.1,450.2 692.6,443.2 693.1,411.7 693.6,406.2 694.2,367.0 694.7,377.5 695.2,360.9 695.6,361.0 696.1,368.5 696.6,432.6 697.2,458.8 697.9,471.8 698.4,458.3 699.0,456.8 699.5,433.4 700.0,432.6 700.5,431.3 701.0,406.2 701.5,412.2 702.0,397.4 702.6,373.7 703.2,373.2 703.9,381.4 704.6,367.5 705.1,367.9 705.5,399.2 706.0,388.6 706.8,339.5 707.4,320.8 708.0,320.4 708.6,342.1 709.2,325.2 709.8,344.0 710.4,371.3 710.8,328.1 711.5,322.1 712.0,329.9 712.5,326.7 713.1,350.4 713.6,323.9 714.1,318.9 714.6,349.1 715.2,320.5 715.8,344.1 716.5,321.5 717.0,329.3 717.6,317.4 718.3,321.9 718.8,344.2 719.3,304.4 719.9,277.8 720.4,299.3 720.9,290.6 721.4,308.5 721.9,275.8 722.6,265.9 723.1,278.4 723.5,272.5 724.0,309.4 724.6,265.4 725.1,280.3 725.7,239.4 726.3,230.2 726.8,284.6 727.2,291.8 728.0,203.8 728.5,233.7 729.0,283.0 729.8,208.2 730.2,285.1 730.7,300.6 731.5,203.8 732.0,212.3 732.4,274.2 733.2,208.2 733.7,284.5 734.1,296.2 734.5,231.8 735.0,221.4 735.8,318.2 736.4,334.3 736.9,298.0 737.5,317.5 738.0,297.5 738.5,298.0 739.0,322.6 739.5,321.5 740.0,279.0 740.5,278.2 741.0,292.9 741.5,271.3 742.0,271.1 742.5,301.6 743.1,287.9 743.7,305.2 744.2,334.8 745.0,308.7 745.5,313.3 746.1,299.0 746.6,299.2 747.0,307.9 747.6,354.4 748.3,335.1 748.9,283.2 749.4,342.4 750.1,371.3 750.8,364.3 751.3,342.2 751.9,282.4 752.4,340.6 753.0,362.1 753.6,326.9 754.2,318.9 754.8,282.1 755.2,252.8 755.7,252.2 756.2,277.5 756.7,252.8 757.3,302.3 757.8,255.6 758.3,283.6 758.8,327.6 759.4,350.8 759.9,308.1 760.4,302.2 760.8,302.0 761.4,324.8 761.9,314.9 762.6,376.0 763.2,344.1 763.7,338.8 764.1,338.7 764.6,351.5 765.0,341.2 765.5,388.5 766.0,348.5 766.7,345.7 767.3,347.2 767.9,357.8 768.5,394.8 769.1,354.7 769.5,368.3 769.9,350.8 770.5,350.9 771.1,356.6 771.8,395.7 772.3,391.5 772.8,352.6 773.5,353.4 774.1,388.2 774.7,392.9 775.2,363.9 775.7,358.5 776.3,385.2 777.0,388.0 777.5,375.3 778.0,385.0 778.5,366.0 779.0,367.4 779.5,390.0 780.0,378.8 780.6,374.7 781.2,382.4 781.7,378.3 782.4,393.0 783.0,365.5 783.7,357.8 784.2,396.9 784.8,405.1 785.3,387.3 785.8,398.3 786.3,384.2 786.8,397.2 787.2,420.8 787.8,427.6 788.4,415.1 789.0,415.0 789.5,431.2 790.0,432.5 790.5,449.6 791.0,450.0 791.5,441.4 792.0,441.7 792.4,454.0 792.9,463.2 793.4,455.6 793.9,465.5 794.4,463.8 794.9,451.4 795.5,454.5 796.0,437.1 796.6,436.7 797.1,425.1 797.6,436.2 798.1,464.3 798.6,461.4 799.0,454.6 799.8,437.5 800.4,432.7 801.0,432.6 801.7,437.3 802.1,450.7 802.6,457.8 803.0,455.1 803.5,463.4 804.0,464.2 804.4,455.1 804.9,454.8 805.4,454.9 806.0,450.2 806.6,450.4 807.2,457.7 807.7,464.9 808.2,468.2 808.7,475.7 809.3,474.7 809.9,462.2 810.4,462.1 811.0,454.6 811.6,447.9 812.2,447.8 812.6,464.0 813.1,465.5 813.6,453.6 814.0,453.2 814.5,437.0 815.0,443.1 815.4,457.7 816.0,466.5 816.5,457.8 817.0,463.4 817.5,466.5 818.0,458.4 818.5,461.5 819.0,458.3 819.8,432.7 820.3,428.2 820.9,428.1 821.5,435.7 822.1,429.2 822.8,447.2 823.3,423.6 823.8,417.8 824.2,417.6 824.7,421.9 825.1,420.4 825.7,456.3 826.3,429.0 826.9,421.4 827.5,443.5 828.0,445.6 828.6,425.0 829.2,419.6 829.7,436.7 830.2,449.6 830.8,435.9 831.4,446.4 832.0,429.4 832.5,423.9 833.0,435.5 833.5,423.9 834.0,423.8 834.5,436.1 835.0,424.2 835.5,442.9 836.0,441.4 836.6,429.0 837.2,421.3 837.7,367.0 838.2,414.8 838.7,426.9 839.1,432.4 839.6,415.3 840.0,415.0 840.6,426.7 841.1,415.1 841.7,424.0 842.2,422.4 842.8,361.2 843.2,353.6 843.6,353.4 844.2,375.3 844.8,366.5 845.5,406.2 846.1,398.4 846.8,409.2 847.4,398.3 847.9,401.8 848.5,425.9 849.0,423.8 849.5,388.1 849.9,377.4 850.4,364.1 850.9,377.1 851.3,363.1 852.0,374.9 852.5,450.2 853.3,417.0 853.9,415.0 854.5,415.0 855.0,423.1 855.6,416.2 856.2,425.8 856.7,397.2 857.1,382.9 857.7,403.0 858.3,399.3 858.9,424.0 859.5,428.2 860.2,399.3 860.9,396.8 861.3,430.5 861.8,443.3 862.4,437.6 863.0,437.0 863.6,442.7 864.1,434.2 864.8,402.3 865.4,400.5 866.0,372.8 866.5,388.8 867.1,432.1 867.5,435.0 868.0,415.0 868.6,426.9 869.2,443.5 869.7,402.1 870.5,397.4 871.0,411.5 871.4,404.8 872.0,434.8 872.6,435.3 873.2,450.0 873.8,450.2 874.3,435.5 874.9,442.1 875.4,415.5 876.0,427.0 876.5,406.2 877.0,390.7 877.5,401.0 878.0,367.9 878.6,373.3 879.1,348.9 879.6,347.7 880.1,405.3 880.6,442.2 881.0,415.5 881.5,397.4 882.1,349.2 882.5,363.7 883.0,344.6 883.4,344.7 883.9,349.1 884.4,423.8 884.9,448.9 885.4,460.3 885.9,438.1 886.5,437.9 887.0,412.0 887.5,406.2 888.1,398.5 888.8,369.9 889.4,367.1 890.0,367.0 890.6,382.3 891.2,373.9 892.0,406.2 892.7,374.5 893.3,371.1 893.9,371.0 894.4,388.0 894.9,376.8 895.5,406.2 896.0,383.5 896.5,373.4 897.2,382.3 897.8,362.2 898.3,362.3 898.9,369.3 899.5,388.6 900.0,396.0 900.5,386.4 901.1,395.0 901.6,386.4 902.2,365.6 902.8,383.4 903.4,362.7 904.0,362.2 904.5,361.3 905.0,335.8 905.5,332.9 906.1,338.7 906.7,322.6 907.3,324.9 907.8,339.9 908.5,397.4 909.0,421.1 909.5,406.8 910.0,436.0 910.5,441.4 911.1,443.4 911.6,459.1 912.2,450.4 912.8,462.1 913.4,460.0 914.0,449.4 914.6,448.0 915.0,441.9 915.5,423.8 916.0,429.0 916.5,443.1 917.1,447.9 917.6,399.6 918.1,384.5 918.5,384.2 919.0,392.4 919.4,392.0 920.0,432.6 920.6,437.3 921.3,453.1 921.9,454.6 922.4,410.7 923.2,405.1 924.0,408.6 924.5,428.2 925.1,411.7 925.8,405.8 926.4,414.6 927.0,400.9 927.6,401.0 928.1,405.9 928.8,441.4 929.3,452.3 929.8,447.0 930.3,454.6 930.8,453.5 931.3,433.8 931.8,440.0 932.3,415.6 932.8,413.7 933.2,417.9 933.7,400.9 934.3,402.6 934.9,434.4 935.4,429.9 936.0,450.2 936.5,447.7 937.0,434.2 937.5,435.6 938.0,423.8 938.6,421.9 939.1,421.9 939.6,402.5 940.4,397.4 940.9,403.9 941.4,404.8 942.0,441.4 942.6,444.9 943.2,458.4 943.8,462.1 944.3,442.8 944.7,442.3 945.2,418.0 945.7,389.7 946.1,371.0 946.7,394.1 947.4,406.8 948.0,428.2 948.5,438.2 949.0,431.1 949.5,449.0 950.0,443.4 950.5,454.6 951.2,462.2 951.9,461.3 952.3,443.4 953.0,441.4 953.6,441.5 954.2,446.7 954.9,462.2 955.6,470.4 956.1,448.0 956.6,439.6 957.1,407.8 957.6,410.5 958.0,432.6 958.5,452.5 959.0,468.5 959.6,407.5 960.1,393.0 960.6,388.6 961.0,400.9 961.5,390.6 962.0,419.4 962.8,384.0 963.4,379.9 964.0,379.8 964.6,397.1 965.2,386.6 966.0,415.0 966.6,380.8 967.1,372.3 967.8,372.7 968.4,362.2 969.0,362.3 969.6,368.9 970.1,393.1 970.5,406.2 971.2,372.8 971.8,367.6 972.4,367.5 973.0,388.8 973.6,380.2 974.3,389.3 975.0,423.8 975.5,423.2 976.0,412.1 976.5,418.3 977.0,444.0 977.5,448.0"/></g>
<line x1="271.6" x2="271.6" y1="54" y2="428.2" stroke="#cc1510" stroke-width="3.3" stroke-linecap="butt"/>
<line x1="787.8" x2="787.8" y1="54" y2="406.2" stroke="#c8201a" stroke-width="2.3" stroke-linecap="butt"/>
</g>
<line x1="113" x2="113" y1="54" y2="495.2" stroke="#3a3a3a" stroke-width="2"/>
<line x1="112" x2="1010" y1="54.6" y2="54.6" stroke="#3f6fa0" stroke-width="2.2"/>
<line x1="103.3" x2="1010" y1="494.5" y2="494.5" stroke="#2c4868" stroke-width="1.8"/>
<text x="528.7" y="49.6" font-size="18.2" font-weight="bold" fill="#333" textLength="173.8" lengthAdjust="spacingAndGlyphs">Comparaison PM2.5</text>
<line x1="477.8" x2="493" y1="76" y2="76" stroke="#2424d8" stroke-width="1.8"/>
<text x="498.2" y="80.2" font-size="12.2" fill="#444">Series 1</text>
<line x1="561" x2="576" y1="76" y2="76" stroke="#229422" stroke-width="1.8"/>
<text x="581.4" y="80.2" font-size="12.2" fill="#444">Series 2</text>
<line x1="644" x2="658.8" y1="76" y2="76" stroke="#e02a2a" stroke-width="1.8"/>
<text x="664.3" y="80.2" font-size="12.2" fill="#444">Series 3</text>
<line x1="727.4" x2="741.7" y1="76" y2="76" stroke="#666" stroke-width="1.8"/>
<text x="747" y="80.2" font-size="12" fill="#666" text-decoration="line-through">?</text>
<line x1="746" x2="754" y1="76.6" y2="76.6" stroke="#777" stroke-width="1"/>
</g>
<rect x="230.6" y="112.3" width="85.3" height="32.3" fill="#ffff00"/>
<text x="232" y="138.5" font-size="23.3" font-weight="bold" fill="#000" textLength="82" lengthAdjust="spacingAndGlyphs">1er mai</text>
<text x="628.6" y="136" font-size="22.3" font-weight="bold" font-style="italic" fill="#000" stroke="#000" stroke-width="0.35" textLength="105" lengthAdjust="spacingAndGlyphs">Sables du</text>
<text x="628.6" y="168.5" font-size="22.3" font-weight="bold" font-style="italic" fill="#000" stroke="#000" stroke-width="0.35" textLength="77.5" lengthAdjust="spacingAndGlyphs">Sahara</text>
<g opacity="0.999">
<line x1="1180" x2="2081" y1="388.7" y2="388.7" stroke="#3f9636" stroke-width="1.4"/>
<line x1="1180" x2="2081" y1="281.5" y2="281.5" stroke="#3f9636" stroke-width="1.4"/>
<line x1="1180" x2="2081" y1="174.3" y2="174.3" stroke="#3f9636" stroke-width="1.4"/>
<line x1="1168.2" x2="1180" y1="495.9" y2="495.9" stroke="#555" stroke-width="1.3"/>
<text x="1161.8" y="501.2" font-size="15" fill="#333" text-anchor="end">0</text>
<line x1="1168.2" x2="1180" y1="388.7" y2="388.7" stroke="#555" stroke-width="1.3"/>
<text x="1161.8" y="394.0" font-size="15" fill="#333" text-anchor="end">20</text>
<line x1="1168.2" x2="1180" y1="281.5" y2="281.5" stroke="#555" stroke-width="1.3"/>
<text x="1161.8" y="286.8" font-size="15" fill="#333" text-anchor="end">40</text>
<line x1="1168.2" x2="1180" y1="174.3" y2="174.3" stroke="#555" stroke-width="1.3"/>
<text x="1161.8" y="179.6" font-size="15" fill="#333" text-anchor="end">60</text>
<line x1="1168.2" x2="1180" y1="67.3" y2="67.3" stroke="#555" stroke-width="1.3"/>
<text x="1161.8" y="72.6" font-size="15" fill="#333" text-anchor="end">80</text>
<line x1="1253.3" x2="1253.3" y1="496" y2="507.8" stroke="#444" stroke-width="1.4"/>
<text transform="translate(1256.7,522.8) rotate(-45) translate(-42.5,0)" font-size="14.7" fill="#4a4a4a" textLength="42.5" lengthAdjust="spacingAndGlyphs">12 mai</text>
<line x1="1335.5" x2="1335.5" y1="496" y2="507.8" stroke="#444" stroke-width="1.4"/>
<text transform="translate(1339.0,522.8) rotate(-45) translate(-45.1,0)" font-size="14.7" fill="#4a4a4a" textLength="45.1" lengthAdjust="spacingAndGlyphs">26 mai</text>
<line x1="1417.8" x2="1417.8" y1="496" y2="507.8" stroke="#444" stroke-width="1.4"/>
<text transform="translate(1421.2,522.8) rotate(-45) translate(-36.4,0)" font-size="14.7" fill="#4a4a4a" textLength="36.4" lengthAdjust="spacingAndGlyphs">9 juin</text>
<line x1="1500.0" x2="1500.0" y1="496" y2="507.8" stroke="#444" stroke-width="1.4"/>
<text transform="translate(1503.5,522.8) rotate(-45) translate(-45.0,0)" font-size="14.7" fill="#4a4a4a" textLength="45.0" lengthAdjust="spacingAndGlyphs">23 juin</text>
<line x1="1582.3" x2="1582.3" y1="496" y2="507.8" stroke="#444" stroke-width="1.4"/>
<text transform="translate(1585.7,522.8) rotate(-45) translate(-34.5,0)" font-size="14.7" fill="#4a4a4a" textLength="34.5" lengthAdjust="spacingAndGlyphs">7 juil.</text>
<line x1="1664.5" x2="1664.5" y1="496" y2="507.8" stroke="#444" stroke-width="1.4"/>
<text transform="translate(1668.0,522.8) rotate(-45) translate(-41.3,0)" font-size="14.7" fill="#4a4a4a" textLength="41.3" lengthAdjust="spacingAndGlyphs">21 juil.</text>
<line x1="1746.8" x2="1746.8" y1="496" y2="507.8" stroke="#444" stroke-width="1.4"/>
<text transform="translate(1750.2,522.8) rotate(-45) translate(-42.7,0)" font-size="14.7" fill="#4a4a4a" textLength="42.7" lengthAdjust="spacingAndGlyphs">4 août</text>
<line x1="1829.0" x2="1829.0" y1="496" y2="507.8" stroke="#444" stroke-width="1.4"/>
<text transform="translate(1832.5,522.8) rotate(-45) translate(-48.5,0)" font-size="14.7" fill="#4a4a4a" textLength="48.5" lengthAdjust="spacingAndGlyphs">18 août</text>
<line x1="1911.3" x2="1911.3" y1="496" y2="507.8" stroke="#444" stroke-width="1.4"/>
<text transform="translate(1914.7,522.8) rotate(-45) translate(-42.9,0)" font-size="14.7" fill="#4a4a4a" textLength="42.9" lengthAdjust="spacingAndGlyphs">1 sept.</text>
<line x1="1993.5" x2="1993.5" y1="496" y2="507.8" stroke="#444" stroke-width="1.4"/>
<text transform="translate(1997.0,522.8) rotate(-45) translate(-51.5,0)" font-size="14.7" fill="#4a4a4a" textLength="51.5" lengthAdjust="spacingAndGlyphs">15 sept.</text>
<line x1="2075.8" x2="2075.8" y1="496" y2="507.8" stroke="#444" stroke-width="1.4"/>
<text transform="translate(2079.2,522.8) rotate(-45) translate(-54.2,0)" font-size="14.7" fill="#4a4a4a" textLength="54.2" lengthAdjust="spacingAndGlyphs">29 sept.</text>
<text transform="translate(1134,369.6) rotate(-90)" font-size="15.3" fill="#666" textLength="175.6" lengthAdjust="spacingAndGlyphs">Concentrations en µg/m3</text>
<g clip-path="url(#cpr)" fill="none" stroke-linejoin="round" stroke-linecap="round">
<polyline stroke="#0000ff" stroke-width="2.4" points="1188.2,463.1 1190.2,472.4 1191.8,478.0 1194.0,470.2 1195.7,455.0 1197.2,479.6 1198.8,416.4 1200.1,470.0 1201.5,460.2 1202.8,467.4 1205.2,400.3 1206.7,479.2 1208.2,453.4 1209.5,437.3 1211.2,461.0 1213.2,486.1 1215.5,460.9 1217.3,487.5 1219.0,468.7 1220.2,479.1 1221.7,451.3 1223.1,477.4 1224.8,442.1 1227.4,483.7 1229.4,470.6 1231.1,479.7 1232.3,438.3 1234.2,494.1 1237.0,442.1 1237.9,477.0 1239.5,473.5 1240.8,481.5 1243.1,459.6 1244.9,484.2 1247.2,444.2 1248.8,484.1 1250.7,466.3 1252.6,429.2 1254.3,456.0 1255.4,441.0 1257.4,464.3 1258.5,430.3 1259.5,472.5 1261.3,446.9 1263.1,470.5 1264.8,422.3 1268.4,441.0 1269.5,440.2 1271.2,478.9 1272.7,440.4 1273.8,493.0 1276.1,420.1 1277.9,472.4 1279.1,461.0 1280.7,479.1 1281.8,442.1 1283.6,473.3 1285.9,452.4 1287.6,481.7 1289.9,457.6 1291.9,484.6 1293.3,450.2 1295.4,473.6 1296.6,493.0 1299.1,474.1 1300.6,457.5 1301.8,420.1 1303.3,454.7 1305.6,484.7 1307.5,456.8 1308.4,488.2 1309.6,478.1 1311.5,436.2 1313.3,474.7 1314.7,469.9 1316.0,484.7 1317.7,468.9 1319.8,477.6 1321.2,460.7 1322.6,481.2 1324.2,468.4 1325.6,480.7 1327.5,452.3 1328.4,414.8 1331.0,433.5 1333.0,468.8 1334.3,430.3 1336.8,466.5 1338.8,446.2 1340.2,429.2 1342.6,426.0 1343.5,456.2 1345.0,439.3 1346.1,423.3 1348.1,436.6 1349.9,458.4 1351.5,419.6 1354.1,461.3 1355.3,433.5 1358.0,474.6 1359.6,462.2 1361.9,488.6 1363.2,469.4 1365.3,478.1 1366.2,417.4 1368.2,480.0 1369.9,456.3 1371.5,483.9 1373.0,470.1 1374.7,486.4 1376.6,447.5 1378.6,483.0 1380.1,460.2 1381.8,480.2 1384.1,469.1 1385.8,476.6 1387.0,410.5 1389.9,458.8 1392.1,408.9 1394.0,457.7 1396.0,442.9 1398.2,462.7 1400.1,425.8 1402.3,453.0 1403.5,440.9 1405.1,462.6 1406.5,433.8 1407.7,460.1 1408.9,375.1 1410.0,412.3 1412.2,407.3 1413.9,392.2 1415.4,418.7 1417.3,375.0 1418.8,390.6 1420.3,373.0 1422.4,399.0 1424.4,375.6 1426.2,400.2 1427.9,349.2 1429.6,399.7 1430.8,324.2 1432.8,403.5 1434.3,378.4 1436.6,414.7 1438.7,348.1 1440.7,416.9 1442.5,327.4 1444.3,402.9 1445.8,392.7 1447.6,332.8 1449.1,377.1 1451.0,356.3 1452.6,368.8 1454.7,414.0 1456.0,395.7 1457.7,368.1 1459.1,378.3 1461.2,412.1 1463.4,409.4 1464.4,364.9 1467.0,400.3 1469.4,465.4 1470.7,419.7 1472.6,457.4 1474.3,420.2 1475.2,407.3 1477.5,437.2 1479.5,412.1 1480.6,445.0 1482.4,456.4 1484.6,407.3 1486.8,424.2 1488.7,466.0 1489.6,400.3 1491.8,461.3 1493.2,395.5 1494.8,486.6 1497.7,448.6 1498.9,471.5 1500.7,432.1 1502.1,462.9 1503.1,407.3 1505.5,490.3 1508.1,397.1 1509.6,457.8 1511.8,428.9 1514.0,451.7 1514.9,381.5 1518.2,388.5 1519.1,431.6 1521.0,458.2 1523.0,432.2 1524.4,459.3 1526.2,429.5 1527.6,458.2 1529.4,432.6 1531.4,460.1 1533.0,453.1 1534.6,471.4 1536.4,431.5 1538.0,472.2 1539.3,443.0 1541.1,473.8 1543.0,449.3 1544.3,459.3 1546.1,429.1 1547.9,472.3 1549.4,443.0 1551.4,431.4 1552.4,442.1 1553.3,430.4 1554.8,458.8 1556.4,430.4 1558.0,377.2 1560.4,415.3 1561.7,454.4 1563.0,431.4 1565.8,448.5 1567.4,435.3 1568.6,453.7 1569.5,387.4 1570.4,431.0 1572.7,461.1 1574.2,429.2 1576.3,459.2 1577.5,441.4 1579.6,461.0 1581.3,444.2 1583.2,467.1 1584.6,442.1 1587.2,487.9 1588.7,457.5 1590.8,480.3 1592.2,455.8 1594.4,492.0 1595.9,461.2 1597.3,481.7 1598.8,460.0 1600.3,490.0 1601.7,464.6 1603.7,490.0 1605.7,468.5 1607.5,452.8 1609.0,472.3 1610.2,481.4 1611.9,472.4 1614.1,481.9 1615.3,458.2 1617.2,484.6 1618.9,452.6 1620.5,482.2 1622.4,466.7 1624.0,480.6 1625.9,464.6 1627.7,487.5 1629.7,474.9 1631.6,484.5 1633.1,459.2 1635.0,403.0 1636.7,463.6 1638.7,479.7 1640.3,459.9 1641.5,482.0 1642.9,447.8 1645.0,481.4 1646.4,450.3 1647.9,447.5 1649.7,457.5 1651.7,471.8 1653.0,456.3 1654.9,478.2 1656.3,447.4 1658.4,472.1 1660.3,462.5 1661.8,475.0 1664.0,453.3 1666.1,484.5 1667.9,454.2 1669.9,486.0 1671.3,454.0 1672.6,480.6 1674.7,459.3 1676.4,491.8 1678.0,460.7 1679.9,488.6 1681.5,442.6 1683.5,492.8 1685.1,457.4 1687.1,492.0 1688.7,474.9 1690.6,487.9 1692.0,468.2 1694.2,488.1 1696.2,461.7 1697.9,486.3 1699.5,472.7 1701.2,489.8 1702.8,473.0 1704.0,429.2 1705.0,488.1 1706.4,477.0 1707.8,481.9 1709.4,460.7 1710.9,485.0 1712.6,458.9 1714.3,488.8 1715.8,462.5 1718.0,484.4 1719.7,469.3 1721.9,482.3 1723.2,460.3 1725.3,484.6 1727.5,455.2 1729.0,480.1 1730.6,468.0 1732.8,491.8 1734.5,461.7 1736.0,490.4 1738.0,462.1 1740.1,483.0 1742.2,454.9 1744.3,480.4 1746.1,459.8 1747.8,480.5 1749.8,466.7 1751.7,490.0 1753.0,467.9 1754.4,494.0 1755.6,426.0 1757.7,493.4 1759.6,474.9 1761.4,484.5 1763.1,441.3 1764.7,472.7 1766.8,455.2 1768.3,467.2 1770.5,427.2 1771.9,468.6 1774.0,479.6 1775.6,477.2 1777.2,428.6 1778.8,468.4 1780.0,479.6 1780.9,449.9 1782.9,479.6 1784.5,453.6 1786.1,475.9 1787.3,432.9 1788.7,469.5 1790.5,425.7 1792.7,444.1 1794.0,412.0 1795.3,439.0 1796.9,427.4 1798.3,447.9 1800.4,409.4 1802.4,444.4 1803.9,428.1 1805.0,376.2 1807.6,408.7 1809.5,479.6 1811.1,428.4 1813.0,451.7 1814.5,423.8 1816.7,449.9 1818.9,441.8 1820.9,457.2 1823.1,439.0 1824.9,464.0 1827.0,420.1 1828.2,460.5 1829.6,423.1 1831.5,465.1 1833.7,411.9 1835.4,455.6 1837.0,424.1 1838.7,458.1 1840.7,438.3 1842.2,452.1 1843.7,442.3 1845.9,467.9 1847.5,454.3 1849.0,477.1 1850.8,463.4 1852.6,481.7 1853.9,461.5 1855.3,478.1 1856.6,423.3 1858.8,476.7 1860.8,449.5 1862.4,475.2 1864.4,453.6 1866.4,475.4 1868.4,493.6 1870.6,469.4 1872.4,436.9 1873.5,493.6 1875.2,433.4 1876.8,465.7 1878.3,447.9 1880.4,463.9 1882.3,452.1 1883.9,458.7 1885.3,439.6 1887.2,466.1 1889.1,426.9 1891.0,398.7 1892.8,467.8 1894.7,484.9 1896.2,463.6 1897.9,492.8 1899.4,470.6 1900.8,484.9 1903.1,458.4 1905.0,482.7 1906.8,466.0 1909.0,492.3 1910.5,470.7 1912.2,441.6 1913.4,463.9 1915.6,490.2 1917.0,471.6 1919.1,490.3 1921.2,475.1 1923.0,484.3 1925.0,477.1 1927.2,482.8 1928.9,459.9 1930.8,491.0 1932.4,460.8 1934.2,492.5 1935.5,474.8 1937.4,485.3 1939.0,444.8 1941.3,488.9 1943.3,474.4 1945.0,490.9 1946.4,471.5 1947.7,488.4 1949.6,466.8 1951.7,487.3 1953.0,462.9 1954.6,484.0 1956.9,467.4 1958.4,488.7 1960.1,471.9 1961.4,488.2 1963.3,460.9 1965.4,482.4 1967.5,469.9 1969.4,492.4 1971.5,463.3 1972.9,487.3 1974.4,461.4 1976.1,483.6 1978.3,461.8 1979.9,488.9 1982.2,459.0 1983.6,488.7 1985.7,462.2 1987.2,487.6 1989.4,477.0 1990.9,485.0 1993.1,458.0 1994.8,483.5 1997.1,471.7 1998.6,489.9 2000.6,474.1 2002.4,475.5 2003.5,445.9 2005.6,466.6 2007.4,449.2 2009.2,432.5 2011.0,439.3 2012.6,463.5 2014.8,446.2 2015.9,385.3 2018.0,453.0 2019.0,412.6 2020.7,440.9 2022.5,464.1 2024.3,429.8 2025.8,473.3 2027.0,419.1 2030.0,483.0 2031.9,464.9 2033.4,488.0 2035.0,474.2 2036.6,488.0 2038.5,480.3 2040.3,491.7 2042.6,470.3 2044.5,489.7 2046.4,467.2 2048.6,487.0 2050.1,468.8 2051.4,485.2 2052.9,467.0 2054.3,486.8 2055.7,480.1 2057.1,484.2 2058.8,470.8 2060.8,482.8 2062.3,467.5 2064.4,484.7 2066.0,471.7 2068.0,490.4 2069.8,468.7 2071.9,490.5 2073.8,476.7 2075.2,488.0 2077.1,468.6 2078.2,486.6 2079.3,491.3"/>
<line x1="1560.4" x2="1560.4" y1="122.1" y2="452.8" stroke="#0000ff" stroke-width="2.3"/>
<line x1="1584.6" x2="1584.6" y1="161.8" y2="468.9" stroke="#0000ff" stroke-width="2.3"/>
<line x1="1607.5" x2="1607.5" y1="337.6" y2="474.3" stroke="#0000ff" stroke-width="2.3"/>
<line x1="1647.9" x2="1647.9" y1="356.9" y2="468.9" stroke="#0000ff" stroke-width="2.3"/>
<line x1="1551.6" x2="1551.6" y1="385.3" y2="495.7" stroke="#0000ff" stroke-width="2.3"/>
<polyline stroke="#008000" stroke-width="2.55" points="1188.2,428.7 1189.4,428.2 1191.5,440.9 1192.8,459.6 1194.2,430.5 1195.5,455.6 1197.7,430.3 1199.0,459.8 1201.0,436.4 1202.4,417.4 1203.8,443.2 1205.1,459.1 1206.8,436.1 1208.7,459.8 1210.4,441.6 1212.1,470.5 1214.1,454.7 1216.0,479.0 1217.8,462.8 1219.7,484.0 1221.0,464.6 1222.6,495.1 1224.6,455.5 1226.2,488.5 1228.0,447.3 1229.4,489.1 1231.1,459.7 1232.8,486.2 1234.3,452.1 1236.0,494.2 1238.0,458.5 1239.6,488.6 1241.6,446.5 1243.2,488.7 1244.4,447.7 1245.7,486.1 1247.1,459.0 1248.6,492.3 1249.7,454.9 1251.6,481.6 1252.9,454.1 1254.1,484.4 1256.0,450.4 1257.6,478.1 1259.2,456.9 1260.9,476.0 1262.7,457.8 1264.5,481.0 1266.0,452.6 1267.9,481.6 1270.0,465.3 1271.5,481.2 1273.0,462.7 1274.8,485.0 1276.6,429.2 1278.2,490.4 1279.4,471.4 1280.8,485.0 1282.1,470.6 1283.3,489.9 1284.6,469.6 1286.4,474.1 1288.3,450.8 1289.8,460.1 1290.7,430.3 1292.5,465.0 1294.4,442.7 1296.0,466.3 1297.3,448.1 1298.5,462.0 1299.7,440.7 1301.5,476.0 1303.1,449.9 1304.2,473.6 1305.3,447.6 1306.4,471.8 1308.5,446.4 1309.6,444.2 1311.1,453.6 1313.1,469.6 1314.2,455.5 1316.7,491.9 1317.8,456.1 1319.5,485.8 1321.4,460.5 1322.7,486.7 1324.0,454.5 1324.9,444.2 1327.5,450.7 1328.4,494.1 1330.8,449.0 1332.2,466.1 1333.5,450.7 1334.7,469.6 1336.0,445.7 1338.1,472.4 1339.7,440.8 1341.4,467.7 1343.3,452.7 1345.4,465.8 1347.3,441.4 1348.5,473.4 1349.7,445.9 1351.8,463.0 1353.3,445.8 1355.2,493.0 1357.2,444.1 1359.0,477.2 1360.9,449.9 1362.3,488.1 1363.5,435.7 1365.7,487.8 1366.8,456.6 1368.0,485.2 1369.5,459.4 1371.0,485.7 1372.5,446.6 1373.9,483.5 1375.9,443.7 1376.9,486.6 1379.4,452.6 1380.7,490.8 1382.1,456.7 1383.6,423.9 1385.4,437.1 1386.6,468.5 1388.5,426.4 1389.7,462.9 1391.0,407.8 1392.8,461.3 1394.6,436.5 1396.4,455.3 1398.1,429.8 1399.5,471.5 1400.5,474.8 1402.3,456.9 1403.6,427.5 1405.5,410.5 1406.4,417.2 1408.1,467.6 1409.5,422.6 1412.2,486.6 1414.3,436.6 1416.3,390.6 1418.2,411.3 1420.2,358.5 1421.5,383.3 1423.3,349.4 1425.0,384.5 1426.6,353.5 1428.5,382.3 1430.6,349.2 1432.4,410.5 1434.3,380.9 1435.7,354.8 1437.0,398.9 1439.4,456.0 1441.2,340.3 1442.8,426.4 1444.8,402.3 1446.8,431.6 1448.1,404.4 1449.5,432.3 1450.8,404.7 1452.4,436.9 1454.0,396.1 1455.8,430.2 1457.1,402.5 1459.0,441.1 1460.3,405.1 1462.2,430.9 1464.2,392.0 1465.7,441.9 1467.5,442.4 1469.4,486.6 1470.5,442.5 1472.2,472.1 1474.2,420.4 1475.8,452.4 1477.6,420.8 1478.8,449.2 1480.9,422.9 1482.4,467.4 1484.1,413.4 1485.6,462.9 1487.3,414.8 1488.5,463.1 1490.3,432.5 1492.2,462.4 1494.1,422.8 1495.4,468.5 1496.6,428.7 1498.5,453.7 1499.7,467.8 1502.0,446.0 1503.4,417.8 1505.0,442.0 1506.3,397.8 1508.1,377.8 1510.7,446.1 1512.7,393.6 1514.9,379.9 1515.9,415.0 1517.1,445.6 1519.1,399.1 1520.3,444.9 1521.5,414.5 1523.0,442.9 1524.2,408.1 1525.6,434.6 1527.2,414.9 1528.4,412.1 1530.4,420.3 1531.8,442.0 1533.6,416.2 1536.2,406.7 1538.1,432.9 1539.5,415.3 1540.6,447.2 1543.5,398.7 1545.6,423.7 1546.8,456.6 1548.7,435.2 1550.5,452.2 1552.4,426.1 1554.0,455.0 1555.2,425.5 1556.5,458.2 1557.7,432.2 1558.8,452.4 1560.2,419.0 1561.8,449.6 1563.0,413.3 1565.4,406.7 1566.4,413.6 1567.5,447.8 1569.4,417.4 1570.6,445.9 1572.5,422.7 1573.8,403.5 1575.7,417.2 1577.1,440.1 1578.9,408.9 1580.0,438.8 1581.9,442.7 1583.9,488.2 1586.4,475.8 1587.8,463.3 1589.6,470.1 1591.5,449.3 1593.3,468.6 1595.2,446.7 1597.3,468.3 1598.6,447.7 1599.8,474.2 1600.8,441.0 1601.7,446.8 1603.3,464.8 1604.5,442.2 1606.1,461.8 1608.0,422.3 1609.8,463.6 1611.6,439.0 1612.5,432.5 1613.7,465.4 1615.4,447.8 1616.9,473.5 1618.3,445.3 1620.2,471.2 1622.0,450.8 1623.5,484.7 1625.2,447.8 1627.0,474.0 1628.2,448.0 1629.6,472.8 1631.0,416.4 1633.1,468.8 1634.4,437.0 1635.7,462.2 1636.8,439.9 1638.0,459.7 1639.4,417.4 1641.7,475.7 1642.8,491.4 1644.8,477.0 1646.7,449.5 1649.5,435.7 1650.8,432.3 1652.7,456.1 1654.6,426.0 1656.3,464.4 1658.0,434.1 1659.8,470.0 1661.0,443.0 1663.0,471.3 1664.4,450.1 1665.9,479.1 1667.2,451.2 1668.6,484.9 1669.7,493.6 1672.1,473.2 1673.8,455.7 1675.3,480.6 1677.2,447.2 1678.1,444.2 1680.1,441.8 1681.7,486.4 1682.8,447.8 1684.9,493.6 1686.3,445.8 1687.9,486.0 1689.1,458.0 1690.5,473.7 1692.3,435.7 1694.0,479.5 1695.5,446.6 1698.3,493.6 1700.4,483.3 1701.9,456.1 1703.6,475.6 1705.2,442.9 1707.0,484.1 1708.8,436.4 1710.6,486.8 1712.4,443.0 1714.2,476.7 1716.9,441.0 1718.7,434.4 1719.9,481.9 1721.6,446.6 1722.9,480.3 1724.2,444.9 1726.0,484.3 1727.6,441.1 1729.2,474.1 1731.2,432.8 1732.5,480.5 1733.7,438.7 1735.4,432.5 1736.8,435.2 1737.9,476.1 1739.4,433.0 1740.5,432.5 1742.4,443.3 1743.8,491.4 1746.0,434.6 1747.9,423.9 1749.9,437.4 1751.3,470.0 1753.3,426.8 1755.6,426.0 1756.7,443.5 1758.5,460.0 1759.6,435.4 1761.4,463.1 1762.3,441.0 1764.4,455.0 1765.8,429.5 1766.7,422.3 1769.0,420.6 1770.8,407.3 1772.3,412.1 1774.8,395.5 1775.7,400.9 1777.5,431.9 1779.5,386.4 1781.6,437.9 1784.2,379.9 1786.8,375.2 1788.6,364.9 1789.7,368.9 1791.6,427.7 1792.6,376.7 1794.6,423.5 1796.1,387.3 1797.0,379.9 1798.6,382.2 1801.0,381.5 1802.0,381.4 1803.3,417.0 1805.2,395.6 1806.1,386.9 1808.4,388.5 1809.3,434.4 1811.0,452.8 1812.6,437.9 1814.5,417.8 1816.2,401.9 1817.8,400.7 1819.8,427.9 1821.7,398.4 1823.3,442.8 1824.6,395.5 1826.3,441.4 1828.3,396.6 1829.6,403.5 1831.2,408.9 1833.2,437.1 1834.7,407.3 1836.9,442.6 1838.4,405.2 1839.9,442.5 1842.1,397.6 1844.6,432.1 1846.7,461.3 1848.0,435.4 1850.0,467.9 1851.6,438.4 1853.2,470.5 1855.1,445.9 1856.5,473.9 1858.0,436.2 1859.2,471.5 1860.7,444.6 1861.8,473.5 1863.1,436.4 1865.0,434.1 1866.8,433.0 1868.1,464.0 1869.7,433.6 1871.8,429.2 1873.1,422.5 1875.1,426.0 1876.7,414.9 1878.8,449.3 1880.6,416.1 1881.8,451.1 1883.5,418.2 1884.9,443.9 1886.2,418.6 1887.8,440.8 1889.6,426.7 1891.3,451.0 1892.9,436.4 1894.7,491.7 1896.4,483.9 1898.0,492.6 1899.5,479.7 1901.0,492.8 1902.3,479.7 1904.0,482.7 1905.9,454.0 1907.1,473.6 1908.8,454.4 1910.0,484.8 1911.8,450.9 1913.9,480.5 1915.8,444.0 1917.4,483.9 1918.9,446.8 1920.0,475.8 1922.2,452.8 1923.1,471.5 1924.3,453.3 1925.7,476.9 1927.3,493.0 1928.5,471.6 1929.7,435.7 1930.9,474.7 1932.8,459.9 1934.7,472.3 1935.7,493.0 1938.1,471.6 1939.5,448.5 1940.6,479.7 1942.4,452.8 1944.3,478.5 1945.8,459.7 1947.5,469.5 1949.2,493.0 1950.4,459.5 1952.0,441.2 1953.5,433.5 1955.0,430.8 1956.7,455.6 1958.0,437.8 1959.6,414.8 1961.7,428.6 1963.5,477.1 1965.1,454.1 1967.0,476.4 1968.2,455.1 1969.4,458.2 1970.8,451.6 1971.9,473.9 1974.4,449.6 1976.0,493.6 1977.1,452.7 1979.4,452.8 1980.5,458.1 1982.3,473.9 1984.5,447.5 1986.1,478.3 1987.9,456.5 1989.8,480.7 1991.2,493.6 1993.0,486.9 1994.4,460.8 1995.9,482.2 1997.9,455.1 1999.6,461.4 2000.7,463.0 2002.5,479.4 2004.7,493.6 2006.6,452.9 2008.6,461.1 2009.7,430.8 2012.0,452.4 2013.1,423.9 2015.2,445.9 2016.5,419.7 2018.1,391.7 2019.2,415.3 2020.3,440.1 2022.2,407.3 2023.8,451.4 2025.2,426.9 2027.2,417.4 2028.5,439.0 2030.5,482.1 2032.2,452.9 2033.7,475.7 2035.6,447.5 2036.8,483.9 2038.3,491.4 2039.8,485.3 2041.2,445.9 2043.9,475.6 2045.1,451.9 2047.0,482.3 2048.6,450.1 2050.3,487.4 2052.3,456.0 2053.8,460.1 2055.5,487.1 2057.3,454.1 2059.0,447.5 2061.2,453.5 2062.8,471.3 2064.5,451.8 2066.5,472.8 2068.2,456.8 2070.2,481.0 2071.3,449.8 2072.7,478.2 2074.2,445.4 2076.0,467.2 2078.2,423.9 2079.3,477.7"/>
<line x1="1539.5" x2="1539.5" y1="249.1" y2="452.8" stroke="#008000" stroke-width="2.4"/>
<line x1="1875.1" x2="1875.1" y1="362.2" y2="452.8" stroke="#008000" stroke-width="2.4"/>
<polyline stroke="#ff0000" stroke-width="2.75" points="1188.2,446.9 1190.5,462.5 1191.8,475.3 1193.6,452.8 1194.6,390.6 1195.8,458.2 1198.4,446.9 1199.7,463.9 1201.4,436.2 1203.5,469.0 1204.7,435.1 1206.7,468.2 1207.5,463.5 1208.6,435.1 1210.6,435.1 1212.5,468.9 1214.2,494.1 1215.2,474.4 1217.2,486.6 1219.0,472.8 1220.4,489.2 1222.0,471.2 1224.0,446.9 1226.5,474.3 1228.4,469.5 1229.5,443.2 1231.5,474.3 1233.5,478.2 1234.8,459.4 1236.9,475.2 1238.4,459.9 1241.3,426.6 1243.0,463.2 1245.4,484.4 1247.1,465.5 1249.2,477.8 1251.6,453.2 1254.0,479.4 1256.3,454.1 1258.0,474.8 1259.6,462.8 1260.9,480.1 1262.3,451.2 1264.4,423.3 1266.0,457.6 1267.4,477.5 1269.6,462.9 1271.3,475.3 1273.0,463.0 1275.3,477.2 1277.8,446.9 1279.3,479.2 1281.5,461.6 1282.9,482.5 1284.6,460.0 1286.5,480.4 1288.7,468.3 1290.7,482.2 1292.5,459.2 1294.0,477.0 1295.3,462.6 1297.2,483.0 1299.0,463.7 1300.8,479.0 1302.0,464.9 1304.1,483.8 1306.4,467.1 1308.4,483.5 1310.1,464.4 1311.4,479.1 1313.2,461.1 1315.5,489.3 1316.9,465.5 1319.2,479.1 1321.4,460.0 1323.2,474.7 1325.2,462.4 1326.8,477.6 1328.4,465.3 1331.3,435.1 1332.4,462.0 1334.6,476.1 1336.4,463.4 1338.0,479.0 1339.4,463.3 1341.7,475.9 1343.0,461.1 1344.3,475.5 1346.1,456.8 1347.6,473.4 1349.1,455.4 1351.0,480.1 1353.2,462.4 1354.4,488.2 1356.0,488.2 1357.0,464.4 1359.1,480.8 1361.2,461.2 1362.4,475.4 1364.4,463.2 1366.8,475.4 1368.2,465.5 1370.2,483.5 1372.2,457.5 1373.6,447.5 1376.4,449.6 1378.3,469.1 1379.9,454.9 1381.2,464.8 1382.7,447.1 1384.3,465.2 1386.1,434.7 1387.7,434.1 1389.8,430.8 1392.1,464.8 1394.4,420.3 1396.8,462.5 1398.1,427.6 1400.6,459.0 1402.3,423.4 1403.8,423.9 1405.8,427.3 1407.1,449.4 1408.8,418.2 1410.7,447.9 1412.2,458.2 1415.0,431.4 1417.3,383.1 1419.0,334.9 1420.6,367.1 1422.3,383.1 1424.0,313.5 1425.6,155.3 1427.2,266.3 1428.6,297.4 1429.6,371.6 1430.7,248.1 1432.5,308.1 1434.1,324.2 1436.0,351.0 1438.2,321.0 1439.9,323.3 1440.8,349.4 1442.5,388.5 1444.2,371.3 1446.0,431.4 1447.6,469.4 1448.8,417.2 1450.3,390.1 1452.3,436.7 1454.3,427.6 1456.0,427.1 1457.7,400.3 1459.5,442.1 1461.0,461.4 1462.1,440.4 1463.0,436.7 1465.1,413.7 1467.0,447.5 1468.1,441.5 1470.3,462.9 1471.6,438.2 1473.7,455.5 1475.6,441.8 1477.1,458.8 1479.5,440.1 1481.8,461.9 1483.9,438.5 1485.2,455.8 1486.6,443.5 1488.0,417.4 1489.2,431.7 1490.4,453.9 1491.3,454.4 1492.5,435.3 1494.0,436.7 1496.4,413.7 1498.5,447.5 1500.4,431.3 1502.7,453.6 1504.9,435.4 1506.5,450.1 1508.5,419.9 1509.9,449.7 1511.5,410.5 1514.0,436.7 1516.6,386.9 1517.5,459.9 1518.5,431.4 1519.7,435.2 1520.6,359.6 1522.0,431.4 1523.3,467.8 1525.0,458.2 1526.0,470.1 1528.0,435.8 1530.0,462.3 1532.3,448.9 1534.1,469.8 1536.2,476.4 1538.0,461.8 1539.3,435.5 1540.9,454.1 1542.7,434.2 1544.5,464.8 1545.8,423.4 1548.2,455.9 1550.3,434.4 1552.1,458.0 1553.0,410.5 1554.2,422.5 1555.5,446.3 1557.0,461.4 1558.8,442.2 1560.4,419.9 1562.1,444.9 1563.7,408.9 1566.0,436.7 1568.1,400.3 1570.0,431.4 1572.2,417.4 1574.0,442.5 1575.5,434.1 1577.4,450.6 1580.0,452.8 1581.7,468.5 1583.1,459.0 1584.0,474.3 1584.9,479.6 1587.3,467.4 1589.0,491.4 1591.6,475.1 1593.6,486.6 1595.3,475.7 1596.7,490.3 1598.3,476.0 1599.6,487.3 1601.2,467.6 1603.4,467.5 1605.6,447.3 1606.9,463.0 1608.4,437.1 1610.1,468.0 1611.6,467.2 1613.6,475.3 1615.1,459.4 1617.4,475.3 1619.8,458.9 1621.2,475.0 1623.3,461.2 1624.9,476.0 1626.8,455.6 1627.7,447.5 1629.5,463.5 1631.7,422.3 1634.0,452.8 1636.1,451.2 1638.5,474.3 1639.5,437.1 1641.0,486.6 1643.2,433.2 1646.2,474.8 1647.5,444.6 1649.5,444.2 1652.0,468.9 1653.6,463.9 1654.6,461.4 1656.3,468.9 1658.0,444.2 1659.6,458.2 1661.3,422.3 1662.5,440.5 1663.5,463.5 1665.3,488.2 1667.6,483.8 1670.0,470.8 1672.1,480.8 1673.6,471.3 1675.0,481.8 1676.7,469.2 1678.1,483.9 1679.7,475.4 1681.4,479.9 1683.7,474.0 1685.9,483.8 1687.3,470.4 1688.9,483.9 1690.2,474.0 1691.6,480.2 1692.9,471.2 1694.3,481.2 1695.5,472.5 1697.6,484.8 1699.3,472.8 1701.1,481.7 1702.4,468.6 1703.9,480.9 1705.3,474.7 1706.7,484.5 1708.2,474.3 1709.5,480.5 1711.4,471.5 1713.2,479.4 1714.4,463.7 1716.4,479.6 1718.2,456.5 1720.5,479.6 1722.1,460.4 1723.6,458.2 1726.1,452.3 1728.0,474.0 1730.2,453.7 1732.0,451.2 1733.7,454.3 1735.9,473.8 1737.5,452.1 1739.4,477.0 1741.6,461.5 1743.0,472.1 1744.3,453.4 1746.0,474.8 1748.0,453.0 1749.5,478.8 1751.3,461.5 1753.0,478.7 1754.3,457.2 1755.6,477.4 1757.2,461.8 1759.4,459.2 1760.7,437.7 1762.1,457.1 1763.3,436.8 1765.7,461.1 1767.0,440.5 1769.3,455.5 1770.7,428.2 1772.8,447.5 1774.1,427.6 1775.1,428.3 1776.0,442.1 1777.2,450.4 1778.2,410.5 1780.0,426.0 1781.5,387.4 1783.5,420.7 1785.9,395.5 1787.5,426.0 1789.3,427.6 1791.0,436.7 1792.6,407.3 1795.0,431.4 1796.7,413.6 1797.7,434.1 1798.8,435.6 1800.0,442.1 1801.2,411.0 1802.7,444.2 1804.0,411.6 1805.0,436.7 1807.8,417.4 1809.2,447.5 1810.5,467.8 1812.5,442.1 1814.5,427.6 1817.0,426.0 1818.1,401.2 1819.5,400.3 1822.0,426.0 1822.9,438.4 1824.0,403.5 1826.0,431.4 1828.0,434.1 1829.3,436.2 1830.5,442.1 1833.0,427.6 1834.2,401.9 1835.5,442.1 1838.0,420.7 1839.8,445.6 1840.7,407.3 1841.8,425.6 1842.7,442.1 1843.9,456.7 1844.8,451.2 1847.0,458.2 1849.8,461.4 1850.7,467.0 1852.0,474.3 1854.2,481.8 1856.2,452.7 1858.2,464.6 1860.0,460.3 1861.5,478.6 1863.6,462.5 1865.2,479.5 1867.2,456.4 1868.5,471.7 1870.9,454.9 1872.0,468.9 1873.5,434.1 1875.1,413.7 1877.5,431.4 1880.0,413.2 1880.9,417.9 1882.5,436.7 1885.2,434.1 1887.0,431.4 1888.6,419.1 1890.3,434.1 1892.0,423.9 1893.0,452.8 1893.8,481.8 1896.8,474.8 1898.8,488.9 1900.9,475.6 1903.1,487.7 1905.4,475.1 1906.8,487.3 1908.3,475.9 1909.9,485.1 1911.5,472.4 1913.8,464.6 1915.6,472.2 1917.2,484.4 1919.3,468.7 1920.7,482.9 1922.5,468.5 1924.2,481.3 1926.2,467.0 1928.0,484.7 1929.7,466.8 1931.5,487.2 1932.9,473.7 1934.2,485.0 1935.8,469.2 1937.3,486.0 1939.0,471.1 1940.5,484.1 1942.7,473.8 1944.0,464.6 1946.1,468.5 1947.8,481.2 1949.8,467.3 1950.8,467.8 1952.0,487.6 1953.5,474.3 1955.9,458.2 1957.5,466.2 1959.3,449.6 1960.5,472.5 1962.0,468.9 1964.3,471.6 1966.0,487.7 1967.2,475.8 1968.5,485.6 1970.1,478.1 1971.8,486.6 1973.3,473.8 1974.9,487.8 1977.2,470.3 1978.7,484.5 1980.6,476.2 1982.5,486.6 1984.0,474.5 1985.2,486.7 1987.6,472.0 1989.5,469.4 1990.8,471.4 1992.4,483.1 1994.1,471.2 1995.5,485.7 1997.1,471.9 1999.4,487.1 2001.0,476.7 2002.3,487.1 2003.6,475.7 2005.3,483.0 2007.3,472.1 2008.9,485.0 2011.4,467.8 2013.5,474.3 2015.5,452.8 2018.1,474.8 2020.3,463.5 2021.6,463.6 2022.5,447.5 2024.5,468.9 2026.5,481.8 2029.0,474.3 2030.1,456.2 2031.6,461.4 2033.3,479.6 2035.0,486.6 2036.4,473.9 2038.7,489.2 2040.0,478.0 2042.4,491.9 2044.2,474.3 2046.1,491.0 2047.7,469.2 2049.6,489.0 2051.6,471.4 2053.0,487.3 2054.8,478.0 2056.4,485.8 2058.6,462.1 2060.0,474.3 2061.8,458.2 2063.4,429.2 2065.8,474.8 2067.5,458.2 2069.1,412.1 2070.5,463.5 2071.8,481.8 2073.2,447.5 2074.5,357.9 2075.7,452.8 2076.9,474.8 2078.6,447.5 2080.3,393.9"/>
</g>
<line x1="1180" x2="1180" y1="66.3" y2="497.2" stroke="#25272b" stroke-width="2.2"/>
<line x1="1179" x2="2081" y1="67.3" y2="67.3" stroke="#356a9a" stroke-width="2.4"/>
<line x1="1168.2" x2="2081" y1="496.1" y2="496.1" stroke="#34506f" stroke-width="1.7"/>
<text x="1572.8" y="61.5" font-size="22.2" font-weight="bold" fill="#333" textLength="212.2" lengthAdjust="spacingAndGlyphs">Comparaison PM2.5</text>
<line x1="1443" x2="1459.5" y1="93.8" y2="93.8" stroke="#0000ff" stroke-width="2.2" stroke-linecap="round"/>
<text x="1466.6" y="99" font-size="15" fill="#333" textLength="46.7" lengthAdjust="spacingAndGlyphs">Esterel</text>
<line x1="1538.4" x2="1554.5" y1="93.8" y2="93.8" stroke="#008000" stroke-width="2.2" stroke-linecap="round"/>
<text x="1562.4" y="99" font-size="15" fill="#333" textLength="90.4" lengthAdjust="spacingAndGlyphs">Toulon Claret</text>
<line x1="1677.6" x2="1693.5" y1="93.8" y2="93.8" stroke="#ff0000" stroke-width="2.2" stroke-linecap="round"/>
<text x="1701" y="99" font-size="15" fill="#333" textLength="159.2" lengthAdjust="spacingAndGlyphs">Plan d'Aups Ste Baume</text>
<line x1="1884.5" x2="1900.7" y1="93.8" y2="93.8" stroke="#666" stroke-width="2.2" stroke-linecap="round"/>
<text x="1907.6" y="99" font-size="15" fill="#666">?</text>
<line x1="1906.5" x2="1917" y1="94.3" y2="94.3" stroke="#666" stroke-width="1"/>
<rect x="2028.4" y="3.7" width="42" height="42.5" fill="#eeeeee" stroke="#cccccc" stroke-width="3"/>
<path d="M2036.8 20.2 L2061.8 20.2 L2049.3 33.6 Z" fill="#555"/>
</g>
</svg></body></html>
